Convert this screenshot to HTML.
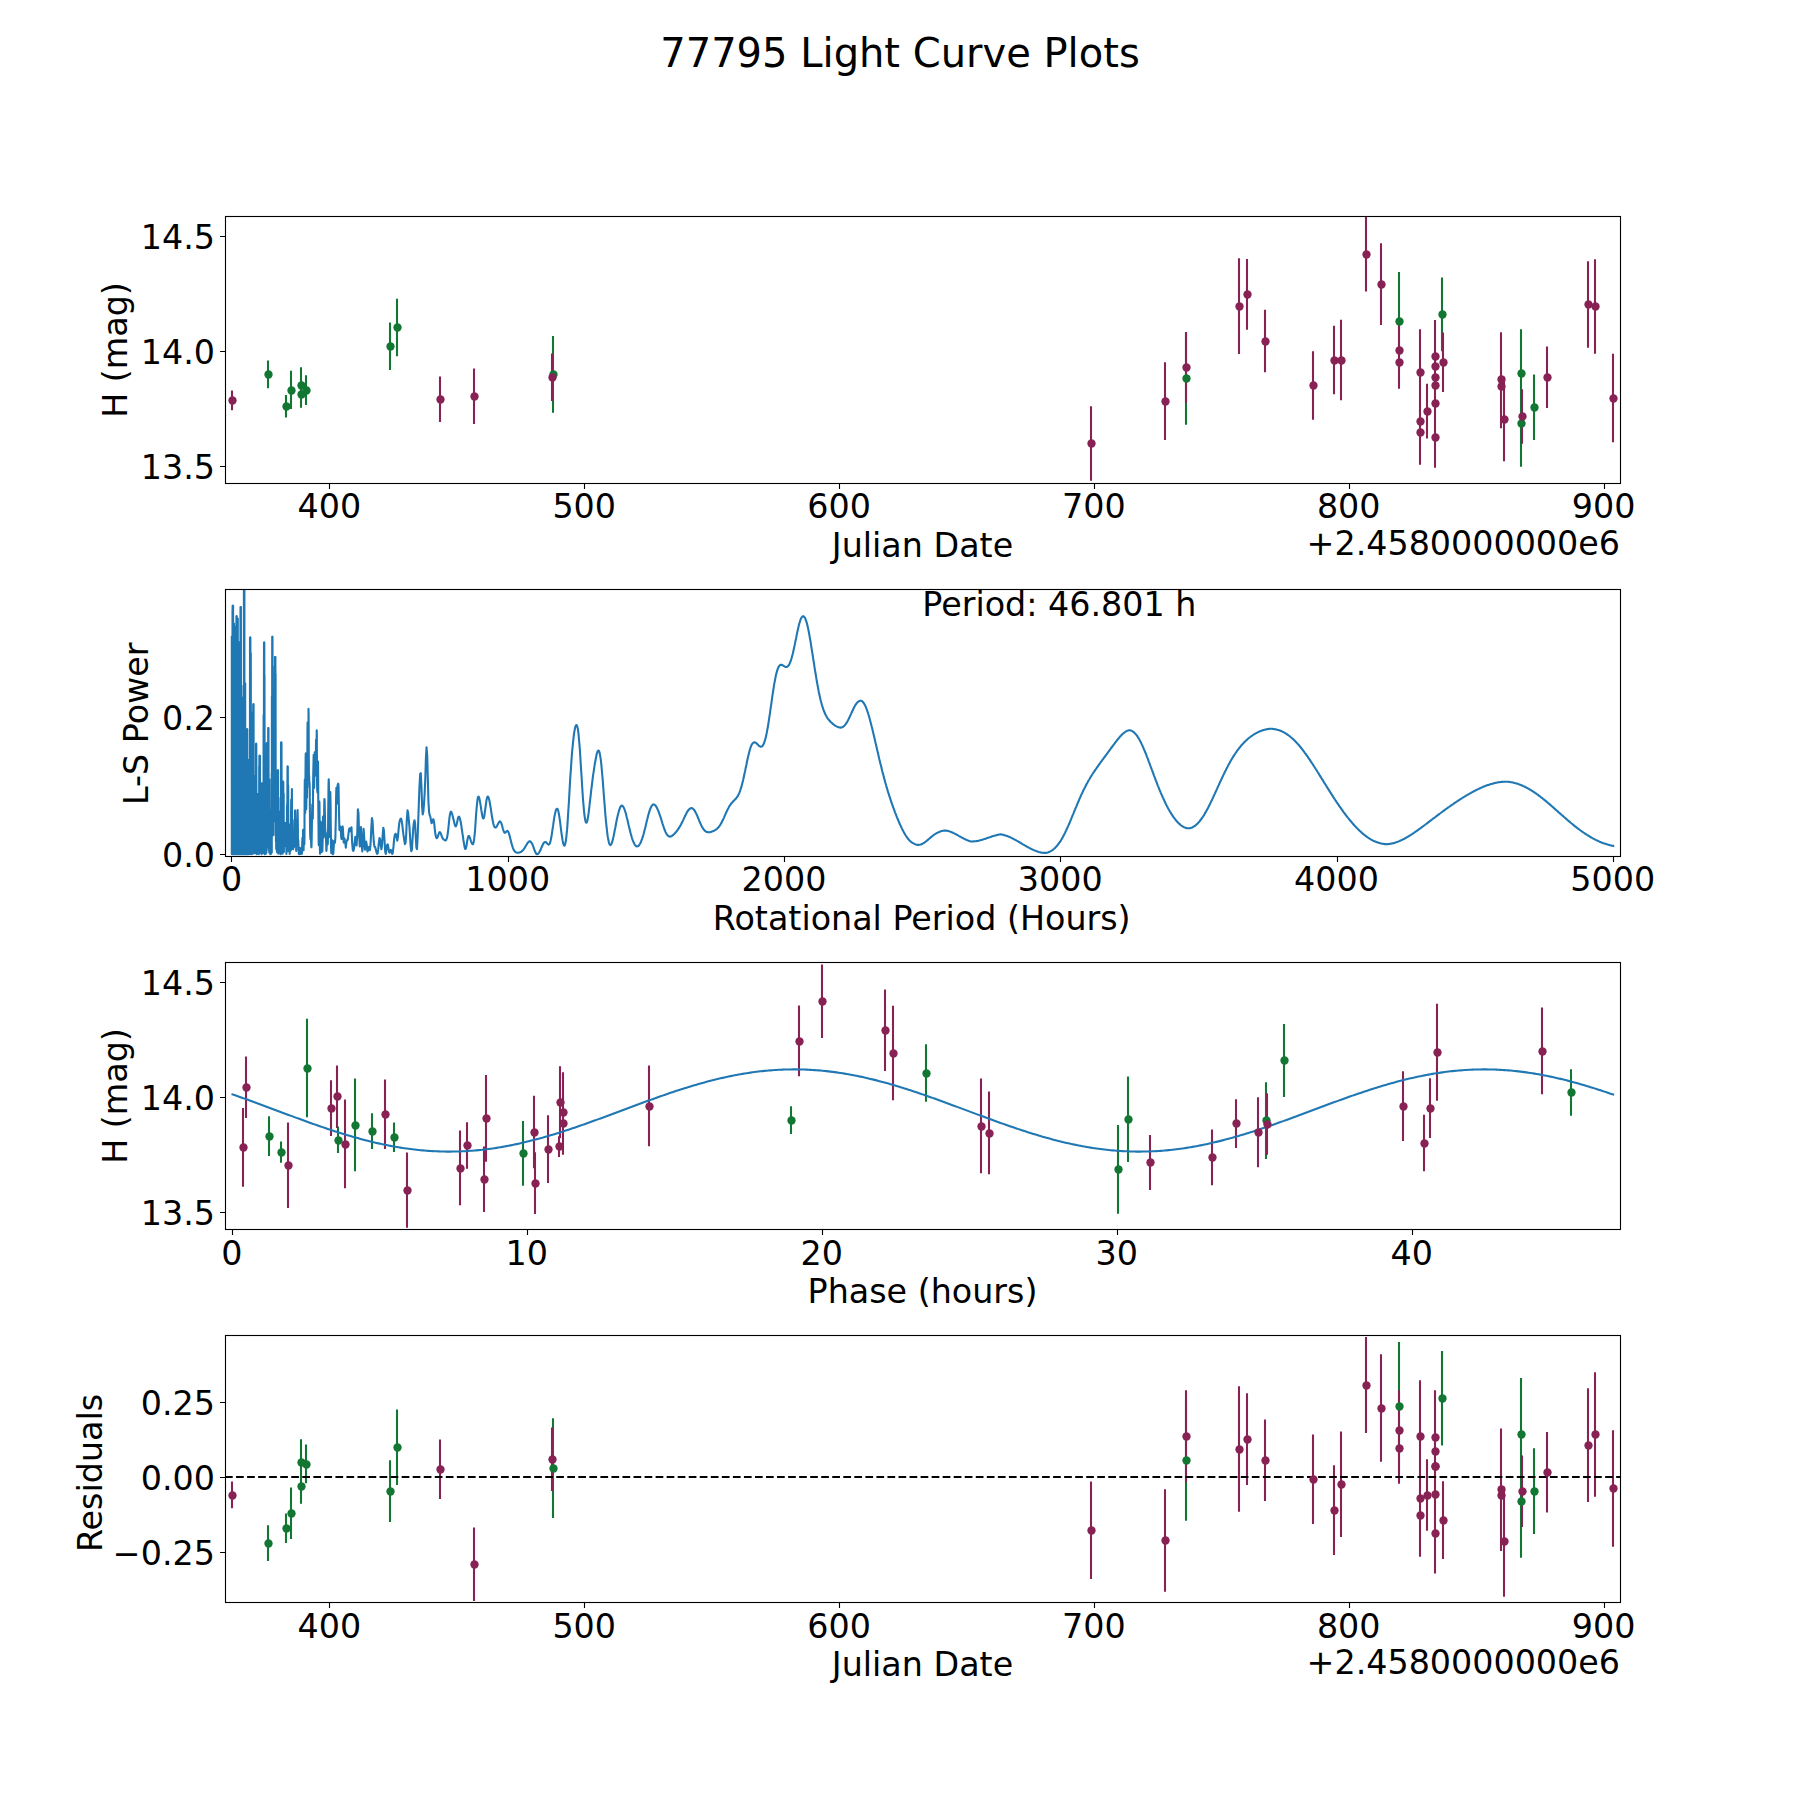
<!DOCTYPE html>
<html lang="en"><head><meta charset="utf-8"><title>77795 Light Curve Plots</title>
<style>html,body{margin:0;padding:0;background:#fff}svg{display:block}</style></head>
<body>
<svg width="1800" height="1800" viewBox="0 0 1800 1800" font-family='"DejaVu Sans", "Liberation Sans", sans-serif' font-size="33.333" fill="#000">
<rect width="1800" height="1800" fill="#fff"/>
<defs><clipPath id="c0"><rect x="225.5" y="216.5" width="1395.0" height="267.0"/></clipPath><clipPath id="c1"><rect x="225.5" y="589.5" width="1395.0" height="267.0"/></clipPath><clipPath id="c2"><rect x="225.5" y="962.5" width="1395.0" height="267.0"/></clipPath><clipPath id="c3"><rect x="225.5" y="1335.5" width="1395.0" height="267.0"/></clipPath></defs>
<text x="900" y="67" text-anchor="middle" font-size="40.0">77795 Light Curve Plots</text>
<g clip-path="url(#c0)">
<path d="M268 360.4V388.2M286 394.95V417.45M291 370.7V409.1M301 367.3V403.3M301 380.7V407.7M306 375.25V404.95M390 322.55V370.05M397 298.65V356.15M553 335.95V412.65M1186 332.7V424.7M1399 271.9V370.5M1442 277.4V351.2M1521 329.2V418.2M1521 380.7V466.7M1534 374.45V439.95" stroke="#117733" stroke-width="2.0833" fill="none"/>
<path d="M232 390.45V410.15M440 376.5V422.1M474 368.55V424.05M552 353.55V401.05M1091 406.2V480.8M1165 362.35V440.05M1186 332V403M1239 258.25V353.95M1247 259.05V329.75M1265 309.75V372.25M1313 351.15V419.65M1334 325.65V394.35M1341 319.75V400.25M1366 217.1V291.5M1381 243.35V325.05M1399 319.5V381.5M1399 336.1V388.7M1420 329.2V415.8M1420 384.6V458.6M1420 400V464.8M1427 383.8V438.6M1435 320.1V393.1M1435 326.6V406.6M1435 346.4V408.4M1435 349.3V421.3M1435 369.4V437.2M1435 407.2V467.8M1443 332.55V392.05M1501 332.2V426.8M1501 344.3V428.3M1504 376.85V461.15M1522 389.35V443.85M1547 346.5V408.1M1588 261.35V347.65M1595 259.15V353.65M1613 353.65V442.35" stroke="#882255" stroke-width="2.0833" fill="none"/>
<g fill="#117733"><circle cx="268.5" cy="374.5" r="4.17"/><circle cx="286.5" cy="406.5" r="4.17"/><circle cx="291.5" cy="390.5" r="4.17"/><circle cx="301.5" cy="385.5" r="4.17"/><circle cx="301.5" cy="394.5" r="4.17"/><circle cx="306.5" cy="390.5" r="4.17"/><circle cx="390.5" cy="346.5" r="4.17"/><circle cx="397.5" cy="327.5" r="4.17"/><circle cx="553.5" cy="374.5" r="4.17"/><circle cx="1186.5" cy="378.5" r="4.17"/><circle cx="1399.5" cy="321.5" r="4.17"/><circle cx="1442.5" cy="314.5" r="4.17"/><circle cx="1521.5" cy="373.5" r="4.17"/><circle cx="1521.5" cy="423.5" r="4.17"/><circle cx="1534.5" cy="407.5" r="4.17"/></g>
<g fill="#882255"><circle cx="232.5" cy="400.5" r="4.17"/><circle cx="440.5" cy="399.5" r="4.17"/><circle cx="474.5" cy="396.5" r="4.17"/><circle cx="552.5" cy="377.5" r="4.17"/><circle cx="1091.5" cy="443.5" r="4.17"/><circle cx="1165.5" cy="401.5" r="4.17"/><circle cx="1186.5" cy="367.5" r="4.17"/><circle cx="1239.5" cy="306.5" r="4.17"/><circle cx="1247.5" cy="294.5" r="4.17"/><circle cx="1265.5" cy="341.5" r="4.17"/><circle cx="1313.5" cy="385.5" r="4.17"/><circle cx="1334.5" cy="360.5" r="4.17"/><circle cx="1341.5" cy="360.5" r="4.17"/><circle cx="1366.5" cy="254.5" r="4.17"/><circle cx="1381.5" cy="284.5" r="4.17"/><circle cx="1399.5" cy="350.5" r="4.17"/><circle cx="1399.5" cy="362.5" r="4.17"/><circle cx="1420.5" cy="372.5" r="4.17"/><circle cx="1420.5" cy="421.5" r="4.17"/><circle cx="1420.5" cy="432.5" r="4.17"/><circle cx="1427.5" cy="411.5" r="4.17"/><circle cx="1435.5" cy="356.5" r="4.17"/><circle cx="1435.5" cy="366.5" r="4.17"/><circle cx="1435.5" cy="377.5" r="4.17"/><circle cx="1435.5" cy="385.5" r="4.17"/><circle cx="1435.5" cy="403.5" r="4.17"/><circle cx="1435.5" cy="437.5" r="4.17"/><circle cx="1443.5" cy="362.5" r="4.17"/><circle cx="1501.5" cy="379.5" r="4.17"/><circle cx="1501.5" cy="386.5" r="4.17"/><circle cx="1504.5" cy="419.5" r="4.17"/><circle cx="1522.5" cy="416.5" r="4.17"/><circle cx="1547.5" cy="377.5" r="4.17"/><circle cx="1588.5" cy="304.5" r="4.17"/><circle cx="1595.5" cy="306.5" r="4.17"/><circle cx="1613.5" cy="398.5" r="4.17"/></g>
</g>
<rect x="225.5" y="216.5" width="1395.0" height="267.0" fill="none" stroke="#000" stroke-width="1.111" stroke-linejoin="miter"/>
<path d="M329.5 483.5v5.41M584.5 483.5v5.41M839.5 483.5v5.41M1094.5 483.5v5.41M1349.5 483.5v5.41M1604.5 483.5v5.41" stroke="#000" stroke-width="1.111" fill="none"/>
<text x="329.4" y="518" text-anchor="middle">400</text>
<text x="584.23" y="518" text-anchor="middle">500</text>
<text x="839.06" y="518" text-anchor="middle">600</text>
<text x="1093.89" y="518" text-anchor="middle">700</text>
<text x="1348.72" y="518" text-anchor="middle">800</text>
<text x="1603.55" y="518" text-anchor="middle">900</text>
<path d="M225.5 236.5h-5.41M225.5 351.5h-5.41M225.5 466.5h-5.41" stroke="#000" stroke-width="1.111" fill="none"/>
<text x="215.0" y="249" text-anchor="end">14.5</text>
<text x="215.0" y="364" text-anchor="end">14.0</text>
<text x="215.0" y="479" text-anchor="end">13.5</text>
<text transform="translate(127 350) rotate(-90)" text-anchor="middle">H (mag)</text>
<text x="922.5" y="557" text-anchor="middle">Julian Date</text>
<text x="1620" y="555" text-anchor="end">+2.4580000000e6</text>
<g clip-path="url(#c1)"><path d="M231.8,853.0 231.8,636.6 232.0,854.3 232.0,849.9 232.0,847.1 232.2,854.3 232.2,636.6 232.2,794.9 232.3,802.8 232.3,854.3 232.5,609.6 232.5,790.1 232.5,789.6 232.5,854.3 232.6,605.8 232.7,846.4 232.8,843.1 232.8,605.8 232.8,854.3 233.0,834.2 233.0,825.2 233.1,605.8 233.2,854.3 233.2,842.9 233.3,842.7 233.3,636.0 233.3,854.3 233.5,844.2 233.5,835.4 233.6,623.6 233.7,854.3 233.7,837.7 233.8,841.6 233.8,854.3 233.8,623.6 234.0,820.7 234.0,818.1 234.0,623.6 234.2,854.3 234.2,833.1 234.3,830.1 234.3,854.3 234.5,626.7 234.5,746.1 234.5,747.1 234.6,629.0 234.7,854.3 234.7,841.2 234.8,844.3 234.8,629.0 235.0,854.3 235.0,842.5 235.0,838.5 235.1,629.0 235.2,854.3 235.2,853.3 235.3,850.8 235.4,634.7 235.5,854.3 235.5,826.8 235.5,827.6 235.5,854.3 235.6,634.7 235.7,838.6 235.8,831.7 235.8,854.3 235.8,634.7 236.0,843.3 236.0,838.3 236.1,652.5 236.2,854.2 236.2,851.3 236.3,853.8 236.3,854.3 236.4,616.2 236.5,826.0 236.5,836.5 236.5,854.3 236.7,616.2 236.7,809.1 236.8,822.4 236.8,616.2 236.9,854.1 237.0,828.2 237.0,825.8 237.2,687.9 237.2,854.3 237.2,851.6 237.3,850.7 237.3,618.6 237.4,854.3 237.5,845.8 237.5,850.7 237.5,854.2 237.7,618.6 237.7,677.1 237.8,618.6 237.8,854.1 238.0,823.5 238.0,821.4 238.1,854.3 238.2,693.0 238.2,794.2 238.3,781.4 238.3,854.2 238.4,729.3 238.5,846.3 238.5,847.4 238.6,642.6 238.7,854.3 238.7,830.1 238.8,837.8 238.9,854.3 239.0,642.6 239.0,763.1 239.0,785.6 239.1,642.6 239.1,854.1 239.2,759.9 239.3,735.5 239.3,683.9 239.3,854.2 239.5,845.5 239.5,845.5 239.6,854.2 239.7,704.7 239.7,793.6 239.8,787.0 239.8,738.9 239.9,854.0 240.0,829.5 240.0,831.4 240.2,854.2 240.2,738.9 240.2,829.2 240.3,830.5 240.4,853.9 240.5,607.0 240.5,851.3 240.5,852.3 240.5,854.3 240.6,607.0 240.7,756.9 240.8,756.3 240.8,854.0 240.9,607.0 241.0,815.9 241.0,798.6 241.1,854.2 241.2,685.8 241.2,801.0 241.3,802.6 241.4,685.8 241.5,853.4 241.5,808.7 241.5,793.1 241.5,716.6 241.6,854.3 241.7,780.2 241.8,767.6 241.9,764.0 242.0,853.8 242.0,852.3 242.0,848.5 242.1,706.0 242.1,851.4 242.2,826.1 242.3,826.1 242.3,854.2 242.5,700.3 242.5,700.3 242.7,854.3 242.7,847.6 242.8,846.4 242.9,700.3 242.9,854.1 243.0,830.4 243.0,833.2 243.2,765.0 243.2,852.8 243.2,847.4 243.3,843.2 243.3,854.2 243.4,697.3 243.5,834.1 243.5,836.1 243.6,849.9 243.6,697.3 243.7,846.2 243.8,842.7 243.9,853.0 243.9,583.5 244.0,819.3 244.0,817.2 244.1,583.5 244.2,854.0 244.2,832.4 244.3,844.8 244.4,583.5 244.4,854.2 244.5,836.8 244.5,835.0 244.6,851.4 244.7,683.3 244.8,687.1 244.8,683.3 245.0,847.9 245.0,824.2 245.0,829.2 245.1,853.7 245.2,683.3 245.2,809.4 245.3,807.6 245.4,790.5 245.5,854.3 245.5,842.5 245.5,837.9 245.6,790.5 245.6,854.0 245.7,851.5 245.8,853.5 245.8,854.3 245.8,807.9 246.0,852.7 246.0,851.0 246.2,853.1 246.2,761.2 246.3,801.5 246.3,761.2 246.5,854.3 246.5,841.1 246.5,832.7 246.6,731.8 246.7,854.2 246.7,850.2 246.8,852.7 246.9,729.2 247.0,804.5 247.0,793.6 247.1,842.5 247.2,729.2 247.2,783.0 247.3,788.3 247.3,729.2 247.5,850.6 247.5,849.6 247.5,849.5 247.5,854.1 247.7,761.5 247.7,826.9 247.8,827.4 247.8,851.0 248.0,802.1 248.0,840.6 248.0,840.3 248.1,852.5 248.2,775.7 248.2,844.3 248.3,849.0 248.3,853.8 248.5,775.7 248.5,798.9 248.5,800.4 248.5,775.7 248.6,854.2 248.7,821.5 248.8,827.9 248.9,853.7 249.0,759.7 249.0,841.0 249.0,836.6 249.0,852.4 249.2,759.7 249.2,835.9 249.3,843.8 249.3,853.8 249.4,759.7 249.5,842.1 249.5,847.5 249.6,853.9 249.7,792.5 249.7,817.1 249.8,819.8 249.9,854.0 250.0,637.5 250.0,811.6 250.0,818.1 250.0,820.9 250.2,637.5 250.2,780.4 250.3,800.1 250.3,833.5 250.4,637.5 250.5,796.3 250.5,793.3 250.5,835.5 250.7,653.4 250.7,707.1 250.8,653.4 251.0,849.6 251.0,825.4 251.0,826.3 251.1,854.2 251.1,716.7 251.2,842.4 251.3,837.5 251.3,763.9 251.5,853.0 251.5,854.1 251.7,712.2 251.8,743.4 251.8,712.2 252.0,853.1 252.0,847.4 252.0,842.3 252.2,712.2 252.3,778.2 252.3,732.4 252.4,852.7 252.5,844.5 252.5,849.1 252.6,851.5 252.7,732.4 252.8,793.2 252.8,763.3 252.9,853.7 253.0,824.9 253.0,818.9 253.1,853.3 253.2,704.3 253.2,766.2 253.3,760.9 253.3,704.3 253.5,839.9 253.5,841.6 253.6,704.3 253.7,850.6 253.7,839.5 253.8,841.7 253.8,853.3 254.0,807.3 254.0,833.6 254.0,835.7 254.1,851.2 254.2,809.1 254.3,815.3 254.3,834.0 254.4,809.1 254.5,812.2 254.5,818.3 254.6,853.2 254.7,776.6 254.7,817.0 254.8,824.3 254.8,852.1 255.0,776.6 255.0,776.6 255.0,834.0 255.2,785.7 255.3,784.1 255.3,779.4 255.4,846.1 255.5,831.8 255.5,837.9 255.5,851.2 255.7,783.7 255.7,830.1 255.8,832.1 255.9,836.9 256.0,743.8 256.0,781.5 256.1,743.8 256.2,834.0 256.2,801.7 256.3,814.4 256.3,743.8 256.5,850.1 256.5,852.3 256.6,854.2 256.7,797.3 256.8,844.6 256.8,851.7 256.9,802.5 257.0,848.5 257.0,852.8 257.0,853.0 257.1,802.5 257.2,851.3 257.3,853.7 257.4,794.0 257.5,812.3 257.5,801.4 257.5,794.0 257.7,829.9 257.7,815.8 257.8,804.2 257.9,794.0 258.0,842.7 258.0,838.7 258.0,834.2 258.0,795.4 258.1,853.1 258.2,837.2 258.3,828.5 258.3,812.1 258.4,850.9 258.5,850.1 258.5,850.5 258.6,812.1 258.7,854.1 258.7,853.7 258.8,853.4 258.9,854.2 259.0,801.2 259.0,839.2 259.1,853.1 259.2,766.3 259.2,829.7 259.3,815.4 259.3,840.5 259.4,755.9 259.5,794.9 259.5,785.6 259.5,755.9 259.7,835.7 259.8,839.0 259.9,842.0 260.0,755.9 260.0,816.7 260.0,820.0 260.1,811.8 260.2,847.7 260.2,841.5 260.3,837.4 260.4,848.1 260.5,796.4 260.5,821.3 260.5,822.6 260.6,828.6 260.7,796.4 260.7,801.6 260.8,796.4 260.9,849.8 261.0,820.4 261.0,805.8 261.0,796.9 261.2,853.7 261.2,853.5 261.3,849.5 261.4,852.7 261.4,796.9 261.5,837.0 261.5,845.3 261.6,854.2 261.7,783.5 261.8,820.7 261.9,783.5 262.0,795.9 262.0,783.5 262.2,844.3 262.2,841.6 262.3,837.1 262.3,800.1 262.4,852.7 262.5,851.6 262.5,852.2 262.7,822.7 262.8,834.8 262.8,822.7 262.9,835.1 263.0,833.3 263.0,833.1 263.0,822.7 263.2,850.6 263.2,842.2 263.3,839.9 263.4,853.0 263.5,808.1 263.5,830.6 263.5,835.9 263.5,844.5 263.6,715.0 263.7,834.2 263.8,827.8 264.0,642.5 264.0,717.8 264.0,724.0 264.2,642.5 264.2,665.0 264.3,642.5 264.5,819.3 264.5,675.0 264.7,854.3 264.7,854.2 264.8,854.0 264.9,826.2 265.0,847.6 265.0,843.4 265.1,853.7 265.2,764.2 265.3,831.4 265.3,835.5 265.5,764.2 265.5,764.9 265.5,764.2 265.6,830.2 265.7,815.5 265.8,767.4 265.9,853.7 266.0,835.2 266.0,832.6 266.1,814.8 266.1,847.9 266.2,841.9 266.3,842.7 266.4,852.7 266.5,772.1 266.5,827.4 266.6,827.9 266.7,743.4 266.8,753.5 266.8,743.4 267.0,805.4 267.0,743.4 267.1,829.9 267.2,822.0 267.3,812.6 267.3,785.6 267.5,794.0 267.5,788.8 267.5,785.6 267.7,847.1 267.7,845.6 267.8,843.8 268.0,757.8 268.0,816.2 268.2,728.1 268.3,739.7 268.3,728.1 268.4,796.5 268.5,788.4 268.5,728.1 268.7,850.0 268.7,828.4 268.8,820.2 268.9,843.1 269.0,779.4 269.0,779.4 269.2,852.5 269.2,849.7 269.3,845.2 269.4,779.4 269.5,843.7 269.5,845.5 269.6,812.6 269.7,844.9 269.8,846.0 269.9,812.6 270.0,842.0 270.0,842.3 270.1,822.9 270.2,853.8 270.3,854.2 270.3,854.3 270.5,810.6 270.5,830.0 270.6,835.4 270.7,810.6 270.7,811.4 270.8,810.6 270.9,853.9 271.0,849.5 271.0,848.6 271.1,812.0 271.2,848.9 271.3,850.2 271.4,812.0 271.5,843.0 271.5,852.8 271.5,852.9 271.7,773.1 271.7,846.2 271.8,852.4 271.9,696.4 272.0,823.1 272.0,830.4 272.2,636.8 272.2,713.2 272.3,725.0 272.3,758.3 272.5,636.8 272.5,648.9 272.5,636.8 272.7,802.2 272.7,800.9 272.8,794.1 272.8,666.3 273.0,802.2 273.0,785.0 273.1,834.6 273.2,811.7 273.3,805.3 273.3,789.1 273.4,835.3 273.5,833.6 273.5,829.3 273.6,785.1 273.7,807.4 273.8,813.9 273.8,818.5 274.0,785.1 274.0,776.1 274.2,821.2 274.2,800.4 274.3,790.4 274.3,717.7 274.5,819.1 274.5,818.3 274.5,813.5 274.7,700.4 274.7,752.6 274.8,772.0 274.8,779.2 275.0,657.1 275.0,682.3 275.1,657.1 275.2,724.0 275.2,711.6 275.3,694.2 275.4,657.1 275.5,764.0 275.5,783.6 275.6,674.0 275.7,799.6 275.8,778.3 275.9,841.9 276.0,823.4 276.0,813.0 276.2,849.1 276.2,837.9 276.3,832.3 276.3,820.2 276.5,849.6 276.5,848.8 276.7,823.6 276.7,841.0 276.8,835.6 277.0,852.1 277.0,852.3 277.2,811.0 277.3,828.9 277.4,773.4 277.5,822.4 277.5,827.5 277.7,770.3 277.8,770.3 278.0,840.2 278.0,837.6 278.1,770.3 278.2,844.0 278.3,850.9 278.3,853.7 278.5,826.4 278.5,828.2 278.6,852.6 278.7,844.4 278.8,837.4 278.8,828.2 279.0,849.0 279.0,850.4 279.2,828.2 279.3,817.3 279.4,841.9 279.5,841.7 279.5,838.5 279.7,811.6 279.8,812.8 279.8,811.6 280.0,842.8 280.0,842.4 280.2,811.6 280.3,824.9 280.5,853.9 280.5,854.2 280.6,798.1 280.7,854.1 280.8,853.3 281.0,797.7 281.0,742.5 281.1,806.4 281.2,804.9 281.3,805.5 281.4,742.5 281.5,771.2 281.5,742.5 281.7,818.2 281.8,809.2 281.9,787.6 282.0,819.3 282.0,798.6 282.2,843.8 282.2,843.5 282.3,842.9 282.4,822.9 282.5,848.3 282.5,852.1 282.6,853.7 282.7,830.9 282.8,781.8 283.0,842.1 283.0,840.4 283.2,781.8 283.2,783.7 283.3,781.8 283.5,845.5 283.5,847.3 283.7,793.5 283.7,839.1 283.8,844.4 283.9,851.9 284.0,835.5 284.0,838.9 284.1,823.7 284.2,842.6 284.3,842.1 284.5,822.7 284.5,823.2 284.6,822.7 284.7,839.1 284.8,822.7 284.8,843.2 285.0,842.8 285.0,841.3 285.1,832.9 285.2,835.0 285.3,835.4 285.4,838.3 285.5,823.4 285.5,828.4 285.6,823.4 285.7,829.9 285.8,823.4 286.0,846.7 286.0,845.5 286.1,832.1 286.2,844.3 286.3,841.6 286.4,853.9 286.5,853.3 286.5,851.9 286.7,838.1 286.8,847.2 287.0,806.2 287.0,829.4 287.2,803.4 287.2,808.4 287.3,811.5 287.5,766.5 287.5,802.1 287.7,766.5 287.7,772.8 287.8,766.5 288.0,823.9 288.0,829.2 288.1,829.3 288.2,785.4 288.3,820.3 288.5,849.8 288.5,851.3 288.7,824.8 288.8,838.3 289.0,845.3 289.0,847.8 289.1,848.4 289.2,838.3 289.3,843.5 289.5,848.1 289.5,839.7 289.7,853.9 289.7,853.7 289.8,852.5 290.0,839.7 290.0,839.7 290.2,847.8 290.3,850.3 290.5,831.2 290.5,826.0 290.6,823.9 290.7,834.6 290.8,843.7 290.8,850.5 291.0,829.9 291.0,818.4 291.2,799.7 291.3,803.1 291.5,839.1 291.5,833.9 291.7,805.3 291.8,796.1 291.9,789.0 292.0,809.4 292.0,825.2 292.2,848.1 292.3,848.6 292.5,841.9 292.5,840.3 292.6,839.7 292.7,841.9 292.8,843.5 293.0,847.6 293.0,848.2 293.2,849.2 293.2,849.2 293.3,848.3 293.4,842.3 293.5,841.5 293.7,844.5 293.8,845.6 293.9,847.3 294.0,846.9 294.0,844.5 294.2,825.4 294.3,821.2 294.4,819.7 294.5,820.1 294.5,821.6 294.7,828.3 294.8,825.8 295.0,810.7 295.1,810.4 295.2,820.8 295.3,827.6 295.5,843.2 295.6,843.9 295.7,842.3 295.8,842.2 296.0,844.1 296.1,846.2 296.2,850.9 296.3,849.9 296.5,839.7 296.6,836.1 296.6,833.2 296.7,830.7 296.8,828.0 296.9,823.2 296.9,823.3 297.0,825.2 297.1,827.4 297.2,824.4 297.3,819.7 297.5,811.8 297.5,810.9 297.6,810.1 297.7,814.7 297.8,821.7 297.9,829.6 297.9,835.8 298.0,839.0 298.1,839.5 298.2,839.5 298.3,840.7 298.5,846.4 298.5,848.8 298.7,853.5 298.8,853.9 298.9,853.8 299.0,853.7 299.0,853.7 299.2,854.2 299.3,853.7 299.4,852.6 299.4,851.3 299.5,849.9 299.6,847.7 299.7,848.0 299.8,849.6 299.9,851.8 299.9,853.4 300.0,853.8 300.2,851.3 300.3,850.6 300.4,850.0 300.4,849.8 300.5,850.6 300.7,854.0 300.8,852.7 300.9,851.5 300.9,851.0 301.0,851.0 301.2,848.1 301.3,848.2 301.4,849.4 301.5,851.0 301.5,852.2 301.7,853.4 301.8,853.8 301.9,853.5 302.0,851.9 302.0,849.3 302.1,846.2 302.2,843.2 302.3,840.7 302.4,838.9 302.4,837.9 302.5,838.1 302.7,844.2 302.8,843.2 302.9,839.2 303.0,834.4 303.0,830.8 303.1,829.9 303.2,831.6 303.3,834.9 303.4,839.2 303.4,844.1 303.5,848.6 303.6,850.3 303.7,840.9 303.8,835.0 303.9,832.3 304.0,833.3 304.1,836.5 304.1,840.2 304.2,843.2 304.3,844.4 304.4,842.7 304.5,835.7 304.5,822.0 304.6,803.8 304.7,787.4 304.8,779.5 304.9,781.7 304.9,791.0 305.0,802.5 305.1,811.3 305.2,813.0 305.3,806.7 305.4,795.5 305.4,783.4 305.5,771.9 305.6,761.4 305.7,753.9 305.8,753.4 305.9,761.9 305.9,776.5 306.0,792.0 306.1,803.9 306.2,809.1 306.3,806.9 306.4,798.6 306.4,786.9 306.5,776.0 306.6,770.5 306.7,772.8 306.8,781.0 306.9,790.8 307.0,797.4 307.0,797.6 307.1,790.9 307.2,778.6 307.3,762.2 307.4,744.1 307.5,729.0 307.6,722.2 307.7,724.2 307.7,730.2 307.8,735.2 307.9,738.0 308.0,741.4 308.1,747.1 308.2,752.2 308.3,750.4 308.4,737.4 308.5,718.9 308.5,708.9 308.6,714.5 308.7,732.3 308.8,754.3 308.9,770.6 309.0,775.8 309.1,775.1 309.2,776.7 309.3,781.9 309.4,787.0 309.4,787.5 309.5,783.9 309.6,782.6 309.7,787.7 309.8,798.1 309.9,810.9 310.0,822.7 310.1,830.8 310.2,835.3 310.3,837.9 310.4,839.2 310.5,838.5 310.6,835.7 310.7,832.6 310.8,830.7 310.9,830.7 310.9,832.6 311.0,836.3 311.1,840.8 311.2,844.6 311.3,846.7 311.4,847.3 311.5,846.2 311.6,843.3 311.7,838.6 311.8,832.3 311.9,825.2 312.0,818.1 312.1,812.1 312.2,807.7 312.3,804.9 312.4,804.2 312.5,806.7 312.6,812.5 312.7,818.2 312.8,818.8 312.9,812.3 313.0,800.6 313.1,787.5 313.2,777.1 313.3,771.1 313.4,767.1 313.5,762.2 313.6,756.8 313.7,754.8 313.8,760.1 313.9,771.8 314.0,783.2 314.1,787.9 314.2,785.0 314.3,777.8 314.4,770.0 314.5,763.0 314.6,756.6 314.7,752.2 314.8,753.1 315.0,760.9 315.1,770.8 315.2,775.6 315.3,772.5 315.4,765.8 315.5,763.5 315.6,768.4 315.7,773.1 315.8,769.0 315.9,755.7 316.0,741.9 316.1,739.5 316.2,749.4 316.3,758.6 316.5,755.7 316.6,742.2 316.7,730.4 316.8,732.7 316.9,749.9 317.0,771.2 317.1,785.4 317.2,790.3 317.3,790.8 317.4,791.9 317.6,792.8 317.7,789.3 317.8,779.8 317.9,768.0 318.0,761.5 318.1,766.9 318.2,784.3 318.3,806.1 318.5,824.4 318.6,836.9 318.7,843.9 318.8,845.2 318.9,841.0 319.0,832.0 319.2,819.8 319.3,807.7 319.4,801.5 319.5,805.5 319.6,818.5 319.7,834.6 319.9,847.7 320.0,853.7 320.1,853.5 320.2,849.9 320.3,844.0 320.4,835.4 320.6,826.4 320.7,821.8 320.8,822.7 320.9,827.3 321.0,834.8 321.2,843.5 321.3,850.2 321.4,852.3 321.5,851.8 321.7,851.0 321.8,850.7 321.9,850.9 322.0,851.2 322.2,851.4 322.3,851.2 322.4,849.9 322.5,846.0 322.7,838.9 322.8,829.9 322.9,821.9 323.0,817.1 323.2,816.2 323.3,819.4 323.4,826.0 323.5,833.2 323.7,837.5 323.8,836.5 323.9,829.3 324.1,818.1 324.2,807.6 324.3,801.2 324.4,799.0 324.6,799.9 324.7,803.5 324.8,809.7 325.0,817.2 325.1,824.3 325.2,829.2 325.4,831.4 325.5,831.9 325.6,831.9 325.8,832.8 325.9,835.2 326.0,839.3 326.2,844.5 326.3,849.0 326.4,850.9 326.6,849.3 326.7,845.2 326.8,840.4 327.0,836.8 327.1,835.4 327.3,836.2 327.4,838.8 327.5,842.1 327.7,844.4 327.8,843.1 328.0,837.0 328.1,826.6 328.2,813.1 328.4,798.6 328.5,786.2 328.7,779.2 328.8,779.5 329.0,788.4 329.1,804.8 329.2,822.6 329.4,834.5 329.5,837.0 329.7,831.4 329.8,820.4 330.0,807.4 330.1,796.6 330.3,792.1 330.4,795.6 330.6,806.3 330.7,820.8 330.9,835.0 331.0,845.6 331.2,851.5 331.3,853.3 331.5,851.9 331.6,848.7 331.8,844.8 331.9,841.6 332.1,840.4 332.2,841.4 332.4,844.3 332.5,847.8 332.7,850.9 332.8,853.1 333.0,854.2 333.1,854.1 333.3,853.1 333.5,851.2 333.6,848.8 333.8,846.2 333.9,843.8 334.1,842.0 334.2,840.9 334.4,840.7 334.6,841.3 334.7,842.3 334.9,842.8 335.0,842.2 335.2,840.1 335.4,836.6 335.5,831.4 335.7,824.0 335.9,814.2 336.0,803.0 336.2,792.9 336.4,787.8 336.5,789.6 336.7,796.2 336.9,802.3 337.0,803.8 337.2,800.1 337.4,793.4 337.5,787.5 337.7,784.6 337.9,784.1 338.0,784.1 338.2,783.7 338.4,784.1 338.6,787.4 338.7,795.0 338.9,805.5 339.1,816.4 339.3,824.8 339.4,829.4 339.6,830.2 339.8,829.1 340.0,827.6 340.1,826.7 340.3,826.6 340.5,827.2 340.7,828.6 340.9,830.8 341.0,833.8 341.2,836.8 341.4,838.8 341.6,839.0 341.8,837.0 342.0,833.0 342.2,829.1 342.4,826.8 342.6,826.4 342.8,827.4 343.0,829.8 343.2,834.0 343.5,839.0 343.7,842.5 343.9,842.6 344.1,840.5 344.3,838.7 344.5,838.5 344.7,839.5 344.9,840.5 345.2,841.4 345.8,847.6 346.4,842.0 347.1,840.1 347.7,839.9 348.3,835.4 349.0,829.6 349.6,828.3 350.2,831.2 350.9,829.7 351.5,827.2 352.1,842.1 352.8,849.9 353.4,850.9 354.1,848.1 354.7,842.3 355.3,836.8 356.0,841.2 356.6,845.5 357.2,835.0 357.9,809.2 358.5,813.5 359.1,834.9 359.8,846.5 360.4,832.6 361.0,827.0 361.7,844.7 362.3,851.4 363.0,841.3 363.6,828.9 364.2,837.1 364.9,849.8 365.5,848.1 366.1,841.5 366.8,845.0 367.4,851.5 368.0,850.4 368.7,847.0 369.3,848.6 369.9,850.1 370.6,843.7 371.2,830.2 371.9,818.0 372.5,820.4 373.1,831.5 373.8,841.7 374.4,846.7 375.0,846.8 375.7,848.9 376.3,851.5 376.9,853.6 377.6,853.6 378.2,849.7 378.8,843.2 379.5,838.0 380.1,839.4 380.8,845.7 381.4,849.3 382.0,845.4 382.7,835.1 383.3,827.7 383.9,830.5 384.6,841.5 385.2,851.7 385.8,853.9 386.5,849.1 387.1,844.8 387.8,844.4 388.4,847.8 389.0,852.0 389.7,852.6 390.3,850.3 390.9,849.8 391.6,852.0 392.2,854.0 392.8,852.6 393.5,846.4 394.1,839.4 394.7,835.5 395.4,833.8 396.0,834.3 396.7,838.0 397.3,840.7 397.9,837.1 398.6,829.4 399.2,823.6 399.8,820.7 400.5,818.9 401.1,818.5 401.7,820.9 402.4,826.0 403.0,831.3 403.6,835.7 404.3,840.5 404.9,844.1 405.6,842.7 406.2,834.4 406.8,820.1 407.5,810.3 408.1,812.4 408.7,818.9 409.4,826.1 410.0,835.5 410.6,845.4 411.3,851.2 411.9,849.7 412.5,839.7 413.2,829.0 413.8,823.0 414.5,820.2 415.1,823.5 415.7,836.0 416.4,847.6 417.0,849.2 417.6,838.3 418.3,819.4 418.9,801.5 419.5,785.9 420.2,773.7 420.8,773.2 421.5,787.9 422.1,806.3 422.7,814.5 423.4,811.3 424.0,803.8 424.6,794.1 425.3,778.3 425.9,758.5 426.5,747.2 427.2,754.9 427.8,777.7 428.4,800.5 429.1,812.2 429.7,815.2 430.4,816.9 431.0,820.6 431.6,823.3 432.3,822.0 432.9,819.5 433.5,819.4 434.2,823.1 434.8,829.1 435.4,834.3 436.1,837.2 436.7,838.2 437.3,837.8 438.0,836.2 438.6,834.1 439.3,832.4 439.9,832.0 440.5,832.8 441.2,834.6 441.8,836.4 442.4,837.9 443.1,838.9 443.7,839.5 444.3,839.9 445.0,840.3 445.6,840.4 446.2,839.9 446.9,838.2 447.5,835.0 448.2,830.1 448.8,824.0 449.4,818.0 450.1,813.7 450.7,811.8 451.3,811.9 452.0,813.6 452.6,815.8 453.2,818.3 453.9,821.1 454.5,823.8 455.1,825.8 455.8,826.4 456.4,825.3 457.1,822.6 457.7,819.5 458.3,817.1 459.0,816.7 459.6,817.6 460.2,819.7 460.9,823.0 461.5,826.9 462.1,831.2 462.8,835.6 463.4,840.0 464.1,844.2 464.7,847.5 465.3,849.0 466.0,848.1 466.6,845.0 467.2,841.0 467.9,837.7 468.5,836.0 469.1,836.1 469.8,837.4 470.4,839.3 471.0,841.3 471.7,843.0 472.3,844.1 473.0,844.2 473.6,842.6 474.2,838.7 474.9,832.2 475.5,823.6 476.1,814.4 476.8,806.2 477.4,800.3 478.0,797.0 478.7,796.5 479.3,798.2 479.9,801.2 480.6,805.1 481.2,809.4 481.9,813.5 482.5,816.8 483.1,818.5 483.8,818.1 484.4,815.4 485.0,811.0 485.7,806.0 486.3,801.4 486.9,798.1 487.6,796.6 488.2,796.8 488.8,798.2 489.5,800.9 490.1,804.5 490.8,808.5 491.4,812.7 492.0,816.8 492.7,820.5 493.3,823.5 493.9,825.6 494.6,827.0 495.2,827.5 495.8,827.4 496.5,826.7 497.1,825.7 497.7,824.5 498.4,823.2 499.0,822.1 499.7,821.4 500.3,821.5 500.9,822.3 501.6,823.9 502.2,826.1 502.8,828.5 503.5,830.6 504.1,832.0 504.7,832.7 505.4,832.6 506.0,831.9 506.7,831.3 507.3,830.9 507.9,831.3 508.6,832.5 509.2,834.3 509.8,836.6 510.5,839.2 511.1,841.8 511.7,844.2 512.4,846.3 513.0,848.1 513.6,849.6 514.3,850.7 514.9,851.5 515.6,852.1 516.2,852.5 516.8,852.6 517.5,852.7 518.1,852.7 518.7,852.6 519.4,852.4 520.0,852.2 520.6,852.0 521.3,851.6 521.9,851.2 522.5,850.6 523.2,849.9 523.8,849.1 524.5,848.1 525.1,847.1 525.7,846.0 526.4,845.0 527.0,843.9 527.6,843.0 528.3,842.2 528.9,841.6 529.5,841.3 530.2,841.3 530.8,841.8 531.4,842.6 532.1,843.7 532.7,845.2 533.4,846.9 534.0,848.7 534.6,850.5 535.3,852.0 535.9,853.2 536.5,854.0 537.2,854.3 537.8,854.1 538.4,853.5 539.1,852.6 539.7,851.5 540.3,850.2 541.0,848.7 541.6,847.2 542.3,845.8 542.9,844.4 543.5,843.3 544.2,842.5 544.8,842.0 545.4,842.0 546.1,842.3 546.7,842.9 547.3,843.7 548.0,844.3 548.6,844.6 549.3,844.3 549.9,843.2 550.5,841.1 551.2,838.1 551.8,834.3 552.4,830.1 553.1,825.7 553.7,821.3 554.3,817.4 555.0,813.9 555.6,811.3 556.2,809.4 556.9,808.7 557.5,809.0 558.2,810.6 558.8,813.4 559.4,817.2 560.1,821.8 560.7,826.8 561.3,831.8 562.0,836.5 562.6,840.4 563.2,843.4 563.9,845.3 564.5,845.7 565.1,844.4 565.8,841.3 566.4,836.3 567.1,829.4 567.7,820.9 568.3,811.0 569.0,800.4 569.6,789.5 570.2,778.9 570.9,769.0 571.5,759.9 572.1,751.9 572.8,744.9 573.4,738.9 574.0,733.9 574.7,729.8 575.3,726.9 576.0,725.3 576.6,725.1 577.2,726.2 577.9,729.1 578.5,733.9 579.1,740.5 579.8,748.7 580.4,758.1 581.0,768.2 581.7,778.6 582.3,788.7 582.9,798.0 583.6,806.2 584.2,813.0 584.9,818.1 585.5,821.3 586.1,822.7 586.8,822.4 587.4,820.5 588.0,817.1 588.7,812.7 589.3,807.5 589.9,801.8 590.6,796.1 591.2,790.4 591.9,785.0 592.5,779.9 593.1,775.2 593.8,770.8 594.4,766.6 595.0,762.7 595.7,759.2 596.3,756.0 596.9,753.3 597.6,751.3 598.2,750.5 598.8,750.8 599.5,752.3 600.1,755.3 600.8,759.6 601.4,765.2 602.0,772.0 602.7,779.6 603.3,787.8 603.9,796.1 604.6,804.4 605.2,812.3 605.8,819.6 606.5,826.1 607.1,831.7 607.7,836.4 608.4,840.1 609.0,842.8 609.7,844.5 610.3,845.1 610.9,844.8 611.6,843.7 612.2,841.9 612.8,839.6 613.5,836.8 614.1,833.7 614.7,830.5 615.4,827.2 616.0,823.8 616.6,820.6 617.3,817.6 617.9,814.8 618.6,812.3 619.2,810.1 619.8,808.3 620.5,806.8 621.1,805.9 621.7,805.6 622.4,805.8 623.0,806.3 623.6,807.4 624.3,808.8 624.9,810.5 625.6,812.6 626.2,815.0 626.8,817.5 627.5,820.1 628.1,822.8 628.7,825.5 629.4,828.2 630.0,830.8 630.6,833.3 631.3,835.6 631.9,837.7 632.5,839.6 633.2,841.3 633.8,842.8 634.5,844.1 635.1,845.1 635.7,845.8 636.4,846.3 637.0,846.4 637.6,846.3 638.3,846.0 638.9,845.4 639.5,844.5 640.2,843.5 640.8,842.2 641.4,840.6 642.1,838.9 642.7,836.9 643.4,834.8 644.0,832.5 644.6,830.1 645.3,827.5 645.9,824.9 646.5,822.2 647.2,819.6 647.8,817.1 648.4,814.7 649.1,812.4 649.7,810.4 650.3,808.7 651.0,807.2 651.6,806.0 652.3,805.2 652.9,804.6 653.5,804.4 654.2,804.5 654.8,804.9 655.4,805.5 656.1,806.4 656.7,807.4 657.3,808.7 658.0,810.1 658.6,811.7 659.2,813.4 659.9,815.3 660.5,817.2 661.2,819.2 661.8,821.3 662.4,823.3 663.1,825.3 663.7,827.2 664.3,829.0 665.0,830.6 665.6,832.1 666.2,833.4 666.9,834.4 667.5,835.2 668.2,835.9 668.8,836.3 669.4,836.5 670.1,836.6 670.7,836.5 671.3,836.2 672.0,835.9 672.6,835.4 673.2,834.9 673.9,834.3 674.5,833.7 675.1,833.0 675.8,832.3 676.4,831.5 677.1,830.7 677.7,829.8 678.3,828.9 679.0,828.0 679.6,826.9 680.2,825.9 680.9,824.7 681.5,823.5 682.1,822.3 682.8,820.9 683.4,819.6 684.0,818.2 684.7,816.8 685.3,815.5 686.0,814.2 686.6,813.0 687.2,811.8 687.9,810.8 688.5,810.0 689.1,809.3 689.8,808.8 690.4,808.4 691.0,808.1 691.7,808.1 692.3,808.3 692.9,808.7 693.6,809.3 694.2,810.1 694.9,811.0 695.5,812.2 696.1,813.4 696.8,814.8 697.4,816.2 698.0,817.8 698.7,819.3 699.3,820.8 699.9,822.3 700.6,823.8 701.2,825.2 701.8,826.4 702.5,827.6 703.1,828.6 703.8,829.5 704.4,830.3 705.0,830.9 705.7,831.4 706.3,831.7 706.9,832.0 707.6,832.1 708.2,832.2 708.8,832.2 709.5,832.2 710.1,832.1 710.8,832.0 711.4,831.8 712.0,831.6 712.7,831.3 713.3,831.1 713.9,830.8 714.6,830.4 715.2,830.1 715.8,829.7 716.5,829.2 717.1,828.7 717.7,828.1 718.4,827.4 719.0,826.6 719.7,825.7 720.3,824.8 720.9,823.7 721.6,822.6 722.2,821.3 722.8,820.0 723.5,818.7 724.1,817.3 724.7,815.8 725.4,814.4 726.0,813.0 726.6,811.6 727.3,810.2 727.9,808.9 728.6,807.7 729.2,806.6 729.8,805.5 730.5,804.6 731.1,803.7 731.7,802.9 732.4,802.2 733.0,801.5 733.6,800.9 734.3,800.3 734.9,799.6 735.5,799.0 736.2,798.2 736.8,797.4 737.5,796.5 738.1,795.4 738.7,794.2 739.4,792.7 740.0,791.1 740.6,789.2 741.3,787.2 741.9,784.9 742.5,782.5 743.2,779.8 743.8,777.0 744.4,774.0 745.1,771.0 745.7,767.9 746.4,764.8 747.0,761.7 747.6,758.8 748.3,755.9 748.9,753.3 749.5,750.9 750.2,748.7 750.8,746.8 751.4,745.3 752.1,744.1 752.7,743.3 753.4,742.7 754.0,742.4 754.6,742.4 755.3,742.5 755.9,742.9 756.5,743.4 757.2,744.0 757.8,744.6 758.4,745.3 759.1,745.8 759.7,746.3 760.3,746.6 761.0,746.7 761.6,746.5 762.3,746.1 762.9,745.3 763.5,744.2 764.2,742.8 764.8,740.9 765.4,738.7 766.1,736.1 766.7,733.1 767.3,729.8 768.0,726.1 768.6,722.2 769.2,718.1 769.9,713.7 770.5,709.2 771.2,704.7 771.8,700.2 772.4,695.8 773.1,691.5 773.7,687.4 774.3,683.6 775.0,680.1 775.6,676.9 776.2,674.0 776.9,671.6 777.5,669.6 778.1,667.9 778.8,666.6 779.4,665.7 780.1,665.1 780.7,664.8 781.3,664.8 782.0,664.9 782.6,665.2 783.2,665.6 783.9,666.0 784.5,666.4 785.1,666.7 785.8,666.9 786.4,666.9 787.1,666.7 787.7,666.4 788.3,665.8 789.0,664.9 789.6,663.7 790.2,662.2 790.9,660.5 791.5,658.5 792.1,656.2 792.8,653.7 793.4,651.0 794.0,648.1 794.7,645.0 795.3,641.9 796.0,638.7 796.6,635.6 797.2,632.5 797.9,629.6 798.5,626.8 799.1,624.3 799.8,622.0 800.4,620.1 801.0,618.5 801.7,617.4 802.3,616.6 802.9,616.3 803.6,616.4 804.2,616.9 804.9,617.7 805.5,619.0 806.1,620.8 806.8,622.9 807.4,625.3 808.0,628.1 808.7,631.2 809.3,634.6 809.9,638.2 810.6,642.0 811.2,645.9 811.8,649.9 812.5,654.0 813.1,658.1 813.8,662.2 814.4,666.3 815.0,670.3 815.7,674.3 816.3,678.1 816.9,681.8 817.6,685.4 818.2,688.8 818.8,692.0 819.5,695.1 820.1,697.9 820.7,700.5 821.4,703.0 822.0,705.3 822.7,707.3 823.3,709.2 823.9,711.0 824.6,712.5 825.2,714.0 825.8,715.3 826.5,716.4 827.1,717.5 827.7,718.4 828.4,719.3 829.0,720.1 829.7,720.8 830.3,721.5 830.9,722.2 831.6,722.8 832.2,723.3 832.8,723.9 833.5,724.4 834.1,724.9 834.7,725.3 835.4,725.7 836.0,726.1 836.6,726.4 837.3,726.7 837.9,726.9 838.6,727.2 839.2,727.4 839.8,727.5 840.5,727.6 841.1,727.5 841.7,727.4 842.4,727.2 843.0,726.8 843.6,726.4 844.3,725.8 844.9,725.1 845.5,724.3 846.2,723.4 846.8,722.4 847.5,721.3 848.1,720.1 848.7,718.9 849.4,717.6 850.0,716.2 850.6,714.9 851.3,713.4 851.9,712.0 852.5,710.7 853.2,709.3 853.8,708.0 854.4,706.8 855.1,705.6 855.7,704.6 856.4,703.6 857.0,702.9 857.6,702.2 858.3,701.7 858.9,701.3 859.5,700.9 860.2,700.7 860.8,700.7 861.4,700.8 862.1,701.2 862.7,701.8 863.3,702.5 864.0,703.4 864.6,704.5 865.3,705.8 865.9,707.2 866.5,708.8 867.2,710.6 867.8,712.5 868.4,714.5 869.1,716.6 869.7,718.9 870.3,721.2 871.0,723.7 871.6,726.2 872.3,728.8 872.9,731.4 873.5,734.1 874.2,736.8 874.8,739.5 875.4,742.3 876.1,745.0 876.7,747.8 877.3,750.6 878.0,753.3 878.6,756.0 879.2,758.7 879.9,761.4 880.5,764.0 881.2,766.6 881.8,769.2 882.4,771.7 883.1,774.1 883.7,776.6 884.3,778.9 885.0,781.2 885.6,783.5 886.2,785.7 886.9,787.9 887.5,790.0 888.1,792.1 888.8,794.2 889.4,796.2 890.1,798.1 890.7,800.1 891.3,802.0 892.0,803.8 892.6,805.6 893.2,807.4 893.9,809.2 894.5,810.9 895.1,812.6 895.8,814.2 896.4,815.8 897.0,817.4 897.7,819.0 898.3,820.5 899.0,822.0 899.6,823.5 900.2,824.9 900.9,826.3 901.5,827.6 902.1,828.9 902.8,830.2 903.4,831.4 904.0,832.6 904.7,833.7 905.3,834.8 905.9,835.8 906.6,836.7 907.2,837.6 907.9,838.5 908.5,839.3 909.1,840.0 909.8,840.7 910.4,841.3 911.0,841.9 911.7,842.3 912.3,842.8 912.9,843.1 913.6,843.4 914.2,843.7 914.9,844.1 915.5,844.4 916.1,844.6 916.8,844.8 917.4,844.9 918.0,844.9 918.7,844.9 919.3,844.8 919.9,844.7 920.6,844.5 921.2,844.3 921.8,844.0 922.5,843.7 923.1,843.4 923.8,843.0 924.4,842.6 925.0,842.1 925.7,841.7 926.3,841.2 926.9,840.6 927.6,840.1 928.2,839.6 928.8,839.0 929.5,838.5 930.1,837.9 930.7,837.4 931.4,836.9 932.0,836.3 932.7,835.8 933.3,835.3 933.9,834.9 934.6,834.4 935.2,834.0 935.8,833.6 936.5,833.3 937.1,832.9 937.7,832.6 938.4,832.4 939.0,832.1 939.6,831.8 940.3,831.5 940.9,831.3 941.6,831.1 942.2,830.9 942.8,830.8 943.5,830.7 944.1,830.6 944.7,830.6 945.4,830.6 946.0,830.6 946.6,830.7 947.3,830.8 947.9,830.9 948.5,831.1 949.2,831.3 949.8,831.5 950.5,831.7 951.1,831.9 951.7,832.2 952.4,832.5 953.0,832.8 953.6,833.1 954.3,833.4 954.9,833.7 955.5,834.0 956.2,834.4 956.8,834.7 957.5,835.1 958.1,835.4 958.7,835.8 959.4,836.2 960.0,836.5 960.6,836.9 961.3,837.2 961.9,837.6 962.5,837.9 963.2,838.3 963.8,838.6 964.4,838.9 965.1,839.2 965.7,839.5 966.4,839.8 967.0,840.1 967.6,840.4 968.3,840.6 968.9,840.9 969.5,841.1 970.2,841.3 970.8,841.5 971.4,841.5 972.1,841.5 972.7,841.5 973.3,841.4 974.0,841.4 974.6,841.3 975.3,841.3 975.9,841.2 976.5,841.1 977.2,841.0 977.8,840.9 978.4,840.7 979.1,840.6 979.7,840.4 980.3,840.3 981.0,840.1 981.6,839.9 982.2,839.7 982.9,839.5 983.5,839.3 984.2,839.1 984.8,838.9 985.4,838.7 986.1,838.5 986.7,838.3 987.3,838.1 988.0,837.8 988.6,837.6 989.2,837.4 989.9,837.2 990.5,837.0 991.2,836.8 991.8,836.5 992.4,836.3 993.1,836.1 993.7,835.9 994.3,835.8 995.0,835.6 995.6,835.4 996.2,835.2 996.9,835.1 997.5,834.9 998.1,834.8 998.8,834.6 999.4,834.5 1000.1,834.4 1000.7,834.3 1001.3,834.4 1002.0,834.5 1002.6,834.7 1003.2,834.8 1003.9,835.0 1004.5,835.2 1005.1,835.4 1005.8,835.6 1006.4,835.8 1007.0,836.0 1007.7,836.3 1008.3,836.5 1009.0,836.8 1009.6,837.1 1010.2,837.3 1010.9,837.6 1011.5,837.9 1012.1,838.2 1012.8,838.5 1013.4,838.9 1014.0,839.2 1014.7,839.5 1015.3,839.9 1015.9,840.2 1016.6,840.6 1017.2,840.9 1017.9,841.3 1018.5,841.7 1019.1,842.0 1019.8,842.4 1020.4,842.8 1021.0,843.2 1021.7,843.5 1022.3,843.9 1022.9,844.3 1023.6,844.7 1024.2,845.0 1024.8,845.4 1025.5,845.8 1026.1,846.2 1026.8,846.5 1027.4,846.9 1028.0,847.2 1028.7,847.6 1029.3,847.9 1029.9,848.3 1030.6,848.6 1031.2,848.9 1031.8,849.2 1032.5,849.5 1033.1,849.8 1033.8,850.1 1034.4,850.4 1035.0,850.6 1035.7,850.9 1036.3,851.1 1036.9,851.4 1037.6,851.6 1038.2,851.8 1038.8,852.0 1039.5,852.2 1040.1,852.3 1040.7,852.5 1041.4,852.6 1042.0,852.7 1042.7,852.8 1043.3,852.8 1043.9,852.9 1044.6,852.9 1045.2,852.9 1045.8,852.9 1046.5,852.8 1047.1,852.7 1047.7,852.5 1048.4,852.3 1049.0,852.0 1049.6,851.7 1050.3,851.4 1050.9,851.1 1051.6,850.7 1052.2,850.3 1052.8,849.8 1053.5,849.3 1054.1,848.8 1054.7,848.2 1055.4,847.6 1056.0,846.9 1056.6,846.2 1057.3,845.5 1057.9,844.7 1058.5,843.8 1059.2,843.0 1059.8,842.0 1060.5,841.1 1061.1,840.1 1061.7,839.0 1062.4,837.9 1063.0,836.7 1063.6,835.6 1064.3,834.3 1064.9,833.1 1065.5,831.8 1066.2,830.4 1066.8,829.0 1067.4,827.6 1068.1,826.2 1068.7,824.8 1069.4,823.3 1070.0,821.8 1070.6,820.3 1071.3,818.7 1071.9,817.2 1072.5,815.6 1073.2,814.1 1073.8,812.5 1074.4,811.0 1075.1,809.4 1075.7,807.9 1076.4,806.3 1077.0,804.8 1077.6,803.3 1078.3,801.8 1078.9,800.3 1079.5,798.8 1080.2,797.4 1080.8,796.0 1081.4,794.6 1082.1,793.2 1082.7,791.9 1083.3,790.5 1084.0,789.2 1084.6,788.0 1085.3,786.7 1085.9,785.5 1086.5,784.3 1087.2,783.1 1087.8,782.0 1088.4,780.8 1089.1,779.7 1089.7,778.7 1090.3,777.6 1091.0,776.5 1091.6,775.5 1092.2,774.5 1092.9,773.5 1093.5,772.5 1094.2,771.6 1094.8,770.6 1095.4,769.7 1096.1,768.8 1096.7,767.9 1097.3,767.0 1098.0,766.1 1098.6,765.2 1099.2,764.3 1099.9,763.4 1100.5,762.5 1101.1,761.7 1101.8,760.8 1102.4,759.9 1103.1,759.1 1103.7,758.2 1104.3,757.4 1105.0,756.5 1105.6,755.6 1106.2,754.8 1106.9,753.9 1107.5,753.0 1108.1,752.2 1108.8,751.3 1109.4,750.4 1110.0,749.6 1110.7,748.7 1111.3,747.8 1112.0,747.0 1112.6,746.1 1113.2,745.3 1113.9,744.4 1114.5,743.6 1115.1,742.7 1115.8,741.9 1116.4,741.1 1117.0,740.2 1117.7,739.5 1118.3,738.7 1119.0,737.9 1119.6,737.2 1120.2,736.4 1120.9,735.8 1121.5,735.1 1122.1,734.5 1122.8,733.8 1123.4,733.3 1124.0,732.8 1124.7,732.3 1125.3,731.8 1125.9,731.4 1126.6,731.1 1127.2,730.8 1127.9,730.6 1128.5,730.4 1129.1,730.3 1129.8,730.3 1130.4,730.4 1131.0,730.6 1131.7,730.8 1132.3,731.2 1132.9,731.6 1133.6,732.0 1134.2,732.6 1134.8,733.2 1135.5,733.9 1136.1,734.6 1136.8,735.4 1137.4,736.3 1138.0,737.3 1138.7,738.3 1139.3,739.4 1139.9,740.6 1140.6,741.8 1141.2,743.1 1141.8,744.4 1142.5,745.8 1143.1,747.2 1143.7,748.7 1144.4,750.2 1145.0,751.8 1145.7,753.3 1146.3,754.9 1146.9,756.6 1147.6,758.2 1148.2,759.9 1148.8,761.6 1149.5,763.3 1150.1,765.0 1150.7,766.7 1151.4,768.5 1152.0,770.2 1152.7,771.9 1153.3,773.6 1153.9,775.3 1154.6,777.0 1155.2,778.7 1155.8,780.4 1156.5,782.0 1157.1,783.7 1157.7,785.3 1158.4,786.9 1159.0,788.5 1159.6,790.0 1160.3,791.6 1160.9,793.1 1161.6,794.6 1162.2,796.0 1162.8,797.4 1163.5,798.8 1164.1,800.2 1164.7,801.6 1165.4,802.9 1166.0,804.2 1166.6,805.4 1167.3,806.7 1167.9,807.9 1168.5,809.0 1169.2,810.2 1169.8,811.3 1170.5,812.3 1171.1,813.4 1171.7,814.4 1172.4,815.4 1173.0,816.3 1173.6,817.2 1174.3,818.1 1174.9,818.9 1175.5,819.7 1176.2,820.5 1176.8,821.3 1177.4,822.0 1178.1,822.6 1178.7,823.3 1179.4,823.9 1180.0,824.4 1180.6,825.0 1181.3,825.5 1181.9,825.9 1182.5,826.3 1183.2,826.7 1183.8,827.1 1184.4,827.4 1185.1,827.6 1185.7,827.9 1186.3,828.0 1187.0,828.2 1187.6,828.3 1188.3,828.3 1188.9,828.3 1189.5,828.2 1190.2,828.1 1190.8,827.9 1191.4,827.7 1192.1,827.5 1192.7,827.2 1193.3,826.8 1194.0,826.5 1194.6,826.0 1195.3,825.6 1195.9,825.1 1196.5,824.5 1197.2,823.9 1197.8,823.3 1198.4,822.6 1199.1,821.9 1199.7,821.1 1200.3,820.3 1201.0,819.5 1201.6,818.6 1202.2,817.7 1202.9,816.8 1203.5,815.8 1204.2,814.8 1204.8,813.7 1205.4,812.6 1206.1,811.5 1206.7,810.3 1207.3,809.2 1208.0,807.9 1208.6,806.7 1209.2,805.5 1209.9,804.2 1210.5,802.9 1211.1,801.6 1211.8,800.2 1212.4,798.9 1213.1,797.5 1213.7,796.1 1214.3,794.8 1215.0,793.4 1215.6,792.0 1216.2,790.6 1216.9,789.2 1217.5,787.8 1218.1,786.4 1218.8,785.0 1219.4,783.6 1220.0,782.2 1220.7,780.8 1221.3,779.4 1222.0,778.1 1222.6,776.7 1223.2,775.4 1223.9,774.0 1224.5,772.7 1225.1,771.4 1225.8,770.2 1226.4,768.9 1227.0,767.7 1227.7,766.4 1228.3,765.2 1228.9,764.1 1229.6,762.9 1230.2,761.8 1230.9,760.6 1231.5,759.5 1232.1,758.5 1232.8,757.4 1233.4,756.4 1234.0,755.4 1234.7,754.4 1235.3,753.5 1235.9,752.5 1236.6,751.6 1237.2,750.7 1237.9,749.8 1238.5,749.0 1239.1,748.2 1239.8,747.4 1240.4,746.6 1241.0,745.8 1241.7,745.1 1242.3,744.4 1242.9,743.7 1243.6,743.0 1244.2,742.3 1244.8,741.7 1245.5,741.1 1246.1,740.5 1246.8,739.9 1247.4,739.3 1248.0,738.8 1248.7,738.2 1249.3,737.7 1249.9,737.2 1250.6,736.8 1251.2,736.3 1251.8,735.8 1252.5,735.4 1253.1,735.0 1253.7,734.6 1254.4,734.2 1255.0,733.8 1255.7,733.4 1256.3,733.1 1256.9,732.8 1257.6,732.4 1258.2,732.1 1258.8,731.8 1259.5,731.6 1260.1,731.3 1260.7,731.0 1261.4,730.8 1262.0,730.6 1262.6,730.3 1263.3,730.1 1263.9,730.0 1264.6,729.8 1265.2,729.6 1265.8,729.5 1266.5,729.3 1267.1,729.2 1267.7,729.1 1268.4,729.0 1269.0,728.9 1269.6,728.8 1270.3,728.8 1270.9,728.8 1271.5,728.8 1272.2,728.8 1272.8,728.9 1273.5,729.0 1274.1,729.1 1274.7,729.2 1275.4,729.3 1276.0,729.4 1276.6,729.6 1277.3,729.7 1277.9,729.9 1278.5,730.1 1279.2,730.3 1279.8,730.5 1280.5,730.8 1281.1,731.0 1281.7,731.3 1282.4,731.6 1283.0,731.9 1283.6,732.2 1284.3,732.6 1284.9,732.9 1285.5,733.3 1286.2,733.7 1286.8,734.1 1287.4,734.6 1288.1,735.0 1288.7,735.5 1289.4,736.0 1290.0,736.5 1290.6,737.0 1291.3,737.5 1291.9,738.1 1292.5,738.6 1293.2,739.2 1293.8,739.8 1294.4,740.4 1295.1,741.1 1295.7,741.7 1296.3,742.4 1297.0,743.1 1297.6,743.8 1298.3,744.5 1298.9,745.2 1299.5,746.0 1300.2,746.7 1300.8,747.5 1301.4,748.3 1302.1,749.1 1302.7,749.9 1303.3,750.8 1304.0,751.6 1304.6,752.5 1305.2,753.3 1305.9,754.2 1306.5,755.1 1307.2,756.0 1307.8,756.9 1308.4,757.8 1309.1,758.8 1309.7,759.7 1310.3,760.6 1311.0,761.6 1311.6,762.6 1312.2,763.5 1312.9,764.5 1313.5,765.5 1314.1,766.5 1314.8,767.5 1315.4,768.5 1316.1,769.5 1316.7,770.5 1317.3,771.5 1318.0,772.5 1318.6,773.5 1319.2,774.6 1319.9,775.6 1320.5,776.6 1321.1,777.6 1321.8,778.7 1322.4,779.7 1323.1,780.7 1323.7,781.7 1324.3,782.8 1325.0,783.8 1325.6,784.8 1326.2,785.8 1326.9,786.9 1327.5,787.9 1328.1,788.9 1328.8,789.9 1329.4,790.9 1330.0,791.9 1330.7,792.9 1331.3,793.9 1332.0,794.9 1332.6,795.9 1333.2,796.9 1333.9,797.9 1334.5,798.8 1335.1,799.8 1335.8,800.8 1336.4,801.7 1337.0,802.7 1337.7,803.6 1338.3,804.5 1338.9,805.5 1339.6,806.4 1340.2,807.3 1340.9,808.2 1341.5,809.1 1342.1,810.0 1342.8,810.9 1343.4,811.8 1344.0,812.6 1344.7,813.5 1345.3,814.3 1345.9,815.2 1346.6,816.0 1347.2,816.8 1347.8,817.6 1348.5,818.4 1349.1,819.2 1349.8,820.0 1350.4,820.8 1351.0,821.5 1351.7,822.3 1352.3,823.0 1352.9,823.8 1353.6,824.5 1354.2,825.2 1354.8,825.9 1355.5,826.6 1356.1,827.2 1356.8,827.9 1357.4,828.6 1358.0,829.2 1358.7,829.8 1359.3,830.4 1359.9,831.0 1360.6,831.6 1361.2,832.2 1361.8,832.8 1362.5,833.3 1363.1,833.9 1363.7,834.4 1364.4,834.9 1365.0,835.4 1365.7,835.9 1366.3,836.4 1366.9,836.8 1367.6,837.3 1368.2,837.7 1368.8,838.1 1369.5,838.5 1370.1,838.9 1370.7,839.3 1371.4,839.7 1372.0,840.0 1372.6,840.4 1373.3,840.7 1373.9,841.0 1374.6,841.3 1375.2,841.6 1375.8,841.8 1376.5,842.1 1377.1,842.3 1377.7,842.5 1378.4,842.8 1379.0,842.9 1379.6,843.1 1380.3,843.3 1380.9,843.4 1381.5,843.6 1382.2,843.7 1382.8,843.8 1383.5,843.9 1384.1,844.0 1384.7,844.1 1385.4,844.1 1386.0,844.2 1386.6,844.2 1387.3,844.1 1387.9,844.1 1388.5,844.0 1389.2,844.0 1389.8,843.9 1390.4,843.8 1391.1,843.7 1391.7,843.5 1392.4,843.4 1393.0,843.2 1393.6,843.1 1394.3,842.9 1394.9,842.7 1395.5,842.5 1396.2,842.3 1396.8,842.1 1397.4,841.9 1398.1,841.6 1398.7,841.4 1399.4,841.1 1400.0,840.8 1400.6,840.5 1401.3,840.3 1401.9,840.0 1402.5,839.6 1403.2,839.3 1403.8,839.0 1404.4,838.7 1405.1,838.3 1405.7,838.0 1406.3,837.6 1407.0,837.2 1407.6,836.9 1408.3,836.5 1408.9,836.1 1409.5,835.7 1410.2,835.3 1410.8,834.9 1411.4,834.5 1412.1,834.1 1412.7,833.7 1413.3,833.2 1414.0,832.8 1414.6,832.4 1415.2,831.9 1415.9,831.5 1416.5,831.1 1417.2,830.6 1417.8,830.2 1418.4,829.7 1419.1,829.2 1419.7,828.8 1420.3,828.3 1421.0,827.8 1421.6,827.4 1422.2,826.9 1422.9,826.4 1423.5,826.0 1424.1,825.5 1424.8,825.0 1425.4,824.5 1426.1,824.0 1426.7,823.6 1427.3,823.1 1428.0,822.6 1428.6,822.1 1429.2,821.6 1429.9,821.1 1430.5,820.7 1431.1,820.2 1431.8,819.7 1432.4,819.2 1433.0,818.7 1433.7,818.2 1434.3,817.8 1435.0,817.3 1435.6,816.8 1436.2,816.3 1436.9,815.8 1437.5,815.4 1438.1,814.9 1438.8,814.4 1439.4,813.9 1440.0,813.5 1440.7,813.0 1441.3,812.5 1442.0,812.0 1442.6,811.6 1443.2,811.1 1443.9,810.6 1444.5,810.2 1445.1,809.7 1445.8,809.2 1446.4,808.8 1447.0,808.3 1447.7,807.9 1448.3,807.4 1448.9,807.0 1449.6,806.5 1450.2,806.1 1450.9,805.6 1451.5,805.2 1452.1,804.7 1452.8,804.3 1453.4,803.9 1454.0,803.4 1454.7,803.0 1455.3,802.6 1455.9,802.1 1456.6,801.7 1457.2,801.3 1457.8,800.9 1458.5,800.5 1459.1,800.0 1459.8,799.6 1460.4,799.2 1461.0,798.8 1461.7,798.4 1462.3,798.0 1462.9,797.6 1463.6,797.2 1464.2,796.8 1464.8,796.4 1465.5,796.1 1466.1,795.7 1466.7,795.3 1467.4,794.9 1468.0,794.5 1468.7,794.2 1469.3,793.8 1469.9,793.4 1470.6,793.1 1471.2,792.7 1471.8,792.4 1472.5,792.0 1473.1,791.7 1473.7,791.4 1474.4,791.0 1475.0,790.7 1475.6,790.4 1476.3,790.0 1476.9,789.7 1477.6,789.4 1478.2,789.1 1478.8,788.8 1479.5,788.5 1480.1,788.2 1480.7,787.9 1481.4,787.6 1482.0,787.4 1482.6,787.1 1483.3,786.8 1483.9,786.6 1484.6,786.3 1485.2,786.1 1485.8,785.8 1486.5,785.6 1487.1,785.3 1487.7,785.1 1488.4,784.9 1489.0,784.7 1489.6,784.5 1490.3,784.3 1490.9,784.1 1491.5,783.9 1492.2,783.7 1492.8,783.5 1493.5,783.4 1494.1,783.2 1494.7,783.1 1495.4,782.9 1496.0,782.8 1496.6,782.7 1497.3,782.5 1497.9,782.4 1498.5,782.3 1499.2,782.2 1499.8,782.1 1500.4,782.0 1501.1,782.0 1501.7,781.9 1502.4,781.9 1503.0,781.8 1503.6,781.8 1504.3,781.7 1504.9,781.7 1505.5,781.7 1506.2,781.7 1506.8,781.7 1507.4,781.7 1508.1,781.7 1508.7,781.8 1509.3,781.9 1510.0,782.0 1510.6,782.1 1511.3,782.2 1511.9,782.3 1512.5,782.4 1513.2,782.6 1513.8,782.7 1514.4,782.9 1515.1,783.1 1515.7,783.2 1516.3,783.4 1517.0,783.6 1517.6,783.8 1518.2,784.0 1518.9,784.3 1519.5,784.5 1520.2,784.7 1520.8,785.0 1521.4,785.2 1522.1,785.5 1522.7,785.8 1523.3,786.1 1524.0,786.4 1524.6,786.7 1525.2,787.0 1525.9,787.3 1526.5,787.6 1527.2,788.0 1527.8,788.3 1528.4,788.7 1529.1,789.0 1529.7,789.4 1530.3,789.8 1531.0,790.2 1531.6,790.6 1532.2,791.0 1532.9,791.4 1533.5,791.8 1534.1,792.2 1534.8,792.7 1535.4,793.1 1536.1,793.5 1536.7,794.0 1537.3,794.4 1538.0,794.9 1538.6,795.4 1539.2,795.9 1539.9,796.3 1540.5,796.8 1541.1,797.3 1541.8,797.8 1542.4,798.3 1543.0,798.8 1543.7,799.3 1544.3,799.9 1545.0,800.4 1545.6,800.9 1546.2,801.4 1546.9,802.0 1547.5,802.5 1548.1,803.0 1548.8,803.6 1549.4,804.1 1550.0,804.7 1550.7,805.2 1551.3,805.8 1551.9,806.3 1552.6,806.9 1553.2,807.4 1553.9,808.0 1554.5,808.6 1555.1,809.1 1555.8,809.7 1556.4,810.2 1557.0,810.8 1557.7,811.4 1558.3,811.9 1558.9,812.5 1559.6,813.1 1560.2,813.6 1560.9,814.2 1561.5,814.8 1562.1,815.3 1562.8,815.9 1563.4,816.4 1564.0,817.0 1564.7,817.5 1565.3,818.1 1565.9,818.7 1566.6,819.2 1567.2,819.8 1567.8,820.3 1568.5,820.8 1569.1,821.4 1569.8,821.9 1570.4,822.5 1571.0,823.0 1571.7,823.5 1572.3,824.0 1572.9,824.6 1573.6,825.1 1574.2,825.6 1574.8,826.1 1575.5,826.6 1576.1,827.1 1576.7,827.6 1577.4,828.1 1578.0,828.6 1578.7,829.0 1579.3,829.5 1579.9,830.0 1580.6,830.5 1581.2,830.9 1581.8,831.4 1582.5,831.8 1583.1,832.3 1583.7,832.7 1584.4,833.1 1585.0,833.6 1585.6,834.0 1586.3,834.4 1586.9,834.8 1587.6,835.2 1588.2,835.6 1588.8,836.0 1589.5,836.4 1590.1,836.8 1590.7,837.1 1591.4,837.5 1592.0,837.9 1592.6,838.2 1593.3,838.6 1593.9,838.9 1594.5,839.2 1595.2,839.6 1595.8,839.9 1596.5,840.2 1597.1,840.5 1597.7,840.8 1598.4,841.1 1599.0,841.4 1599.6,841.7 1600.3,841.9 1600.9,842.2 1601.5,842.5 1602.2,842.7 1602.8,842.9 1603.5,843.2 1604.1,843.4 1604.7,843.6 1605.4,843.8 1606.0,844.1 1606.6,844.3 1607.3,844.4 1607.9,844.6 1608.5,844.8 1609.2,845.0 1609.8,845.1 1610.4,845.3 1611.1,845.5 1611.7,845.6 1612.4,845.7 1613.0,845.9 1613.2,845.9" fill="none" stroke="#1f77b4" stroke-width="2.0833" stroke-linejoin="round" stroke-linecap="square"/></g>
<rect x="225.5" y="589.5" width="1395.0" height="267.0" fill="none" stroke="#000" stroke-width="1.111" stroke-linejoin="miter"/>
<path d="M231.5 856.5v5.41M508.5 856.5v5.41M784.5 856.5v5.41M1060.5 856.5v5.41M1337.5 856.5v5.41M1613.5 856.5v5.41" stroke="#000" stroke-width="1.111" fill="none"/>
<text x="231.5" y="891" text-anchor="middle">0</text>
<text x="507.75" y="891" text-anchor="middle">1000</text>
<text x="784" y="891" text-anchor="middle">2000</text>
<text x="1060.25" y="891" text-anchor="middle">3000</text>
<text x="1336.5" y="891" text-anchor="middle">4000</text>
<text x="1612.75" y="891" text-anchor="middle">5000</text>
<path d="M225.5 717.5h-5.41M225.5 854.5h-5.41" stroke="#000" stroke-width="1.111" fill="none"/>
<text x="215.0" y="730" text-anchor="end">0.2</text>
<text x="215.0" y="867" text-anchor="end">0.0</text>
<text transform="translate(148 723.7) rotate(-90)" text-anchor="middle">L-S Power</text>
<text x="921.7" y="930" text-anchor="middle">Rotational Period (Hours)</text>
<text x="1059.4" y="616" text-anchor="middle">Period: 46.801 h</text>
<g clip-path="url(#c2)">
<path d="M269 1116.3V1155.9M281 1141.55V1162.85M307 1018.65V1117.35M338 1126.55V1153.05M355 1078.5V1171.3M372 1113.25V1148.95M394 1122.45V1151.95M523 1121.1V1185.7M791 1106.3V1133.9M926 1044.35V1101.85M1118 1125V1213.8M1128 1076.45V1161.95M1266 1082.2V1159M1284 1024.1V1096.9M1571 1069.2V1115.8" stroke="#117733" stroke-width="2.0833" fill="none"/>
<path d="M243 1108.05V1186.75M246 1056.4V1118M288 1122.4V1208M331 1080.2V1136M337 1065.45V1127.95M345 1099.6V1188.2M385 1079.45V1148.95M407 1152.45V1227.75M460 1130.45V1205.15M467 1122.15V1168.65M484 1146.55V1212.05M486 1074.95V1161.65M534 1095.65V1168.15M535 1152.3V1213.9M548 1115.3V1183.1M559 1136.35V1157.05M560 1066.25V1138.35M563 1072.2V1152.2M563 1092.7V1154.7M649 1065.4V1146.2M799 1005.4V1076.2M822 964.4V1038M885 989.4V1071M893 1005.65V1100.35M981 1078.4V1173.2M989 1091.6V1174.2M1150 1135V1190M1212 1129.4V1185.2M1236 1099.2V1148M1258 1097.3V1167.3M1267 1093.15V1154.85M1403 1071.3V1140.9M1424 1114.7V1171.3M1430 1078.2V1138M1437 1003.7V1100.7M1542 1007.4V1094.2" stroke="#882255" stroke-width="2.0833" fill="none"/>
<path d="M232.5,1094.39 234.5,1095.09 236.5,1095.78 238.5,1096.48 240.5,1097.19 242.5,1097.90 244.5,1098.61 246.5,1099.33 248.5,1100.05 250.5,1100.78 252.5,1101.51 254.5,1102.24 256.5,1102.97 258.5,1103.71 260.5,1104.45 262.5,1105.19 264.5,1105.93 266.5,1106.68 268.5,1107.43 270.5,1108.17 272.5,1108.92 274.5,1109.67 276.5,1110.42 278.5,1111.16 280.5,1111.91 282.5,1112.66 284.5,1113.41 286.5,1114.15 288.5,1114.90 290.5,1115.64 292.5,1116.38 294.5,1117.12 296.5,1117.86 298.5,1118.60 300.5,1119.33 302.5,1120.06 304.5,1120.78 306.5,1121.51 308.5,1122.23 310.5,1122.94 312.5,1123.65 314.5,1124.36 316.5,1125.06 318.5,1125.76 320.5,1126.45 322.5,1127.14 324.5,1127.82 326.5,1128.50 328.5,1129.16 330.5,1129.83 332.5,1130.49 334.5,1131.14 336.5,1131.78 338.5,1132.42 340.5,1133.05 342.5,1133.67 344.5,1134.28 346.5,1134.89 348.5,1135.49 350.5,1136.08 352.5,1136.66 354.5,1137.23 356.5,1137.80 358.5,1138.35 360.5,1138.90 362.5,1139.43 364.5,1139.96 366.5,1140.48 368.5,1140.98 370.5,1141.48 372.5,1141.97 374.5,1142.44 376.5,1142.91 378.5,1143.36 380.5,1143.81 382.5,1144.24 384.5,1144.66 386.5,1145.07 388.5,1145.47 390.5,1145.86 392.5,1146.23 394.5,1146.60 396.5,1146.95 398.5,1147.29 400.5,1147.62 402.5,1147.93 404.5,1148.24 406.5,1148.53 408.5,1148.80 410.5,1149.07 412.5,1149.32 414.5,1149.56 416.5,1149.79 418.5,1150.00 420.5,1150.20 422.5,1150.39 424.5,1150.56 426.5,1150.72 428.5,1150.87 430.5,1151.00 432.5,1151.12 434.5,1151.23 436.5,1151.32 438.5,1151.40 440.5,1151.47 442.5,1151.52 444.5,1151.56 446.5,1151.59 448.5,1151.60 450.5,1151.60 452.5,1151.58 454.5,1151.55 456.5,1151.51 458.5,1151.45 460.5,1151.38 462.5,1151.30 464.5,1151.20 466.5,1151.09 468.5,1150.97 470.5,1150.83 472.5,1150.68 474.5,1150.52 476.5,1150.34 478.5,1150.15 480.5,1149.95 482.5,1149.73 484.5,1149.50 486.5,1149.26 488.5,1149.00 490.5,1148.74 492.5,1148.45 494.5,1148.16 496.5,1147.86 498.5,1147.54 500.5,1147.21 502.5,1146.86 504.5,1146.51 506.5,1146.14 508.5,1145.76 510.5,1145.37 512.5,1144.97 514.5,1144.56 516.5,1144.13 518.5,1143.70 520.5,1143.25 522.5,1142.79 524.5,1142.33 526.5,1141.85 528.5,1141.36 530.5,1140.86 532.5,1140.35 534.5,1139.83 536.5,1139.30 538.5,1138.76 540.5,1138.21 542.5,1137.66 544.5,1137.09 546.5,1136.51 548.5,1135.93 550.5,1135.34 552.5,1134.74 554.5,1134.13 556.5,1133.51 558.5,1132.89 560.5,1132.26 562.5,1131.62 564.5,1130.97 566.5,1130.32 568.5,1129.66 570.5,1129.00 572.5,1128.33 574.5,1127.65 576.5,1126.97 578.5,1126.28 580.5,1125.58 582.5,1124.89 584.5,1124.18 586.5,1123.47 588.5,1122.76 590.5,1122.05 592.5,1121.33 594.5,1120.60 596.5,1119.87 598.5,1119.14 600.5,1118.41 602.5,1117.68 604.5,1116.94 606.5,1116.20 608.5,1115.46 610.5,1114.71 612.5,1113.97 614.5,1113.22 616.5,1112.47 618.5,1111.73 620.5,1110.98 622.5,1110.23 624.5,1109.48 626.5,1108.73 628.5,1107.99 630.5,1107.24 632.5,1106.49 634.5,1105.75 636.5,1105.01 638.5,1104.27 640.5,1103.53 642.5,1102.79 644.5,1102.06 646.5,1101.33 648.5,1100.60 650.5,1099.87 652.5,1099.15 654.5,1098.43 656.5,1097.72 658.5,1097.01 660.5,1096.31 662.5,1095.61 664.5,1094.91 666.5,1094.22 668.5,1093.54 670.5,1092.86 672.5,1092.19 674.5,1091.52 676.5,1090.86 678.5,1090.20 680.5,1089.56 682.5,1088.92 684.5,1088.28 686.5,1087.66 688.5,1087.04 690.5,1086.43 692.5,1085.83 694.5,1085.23 696.5,1084.65 698.5,1084.07 700.5,1083.50 702.5,1082.94 704.5,1082.39 706.5,1081.85 708.5,1081.32 710.5,1080.79 712.5,1080.28 714.5,1079.78 716.5,1079.29 718.5,1078.81 720.5,1078.33 722.5,1077.87 724.5,1077.42 726.5,1076.99 728.5,1076.56 730.5,1076.14 732.5,1075.74 734.5,1075.34 736.5,1074.96 738.5,1074.59 740.5,1074.23 742.5,1073.89 744.5,1073.55 746.5,1073.23 748.5,1072.92 750.5,1072.63 752.5,1072.34 754.5,1072.07 756.5,1071.81 758.5,1071.56 760.5,1071.33 762.5,1071.11 764.5,1070.90 766.5,1070.71 768.5,1070.53 770.5,1070.36 772.5,1070.21 774.5,1070.07 776.5,1069.94 778.5,1069.82 780.5,1069.72 782.5,1069.64 784.5,1069.56 786.5,1069.50 788.5,1069.46 790.5,1069.42 792.5,1069.41 794.5,1069.40 796.5,1069.41 798.5,1069.43 800.5,1069.47 802.5,1069.51 804.5,1069.58 806.5,1069.65 808.5,1069.74 810.5,1069.85 812.5,1069.96 814.5,1070.09 816.5,1070.24 818.5,1070.39 820.5,1070.56 822.5,1070.75 824.5,1070.94 826.5,1071.15 828.5,1071.38 830.5,1071.61 832.5,1071.86 834.5,1072.12 836.5,1072.40 838.5,1072.68 840.5,1072.98 842.5,1073.29 844.5,1073.62 846.5,1073.96 848.5,1074.30 850.5,1074.66 852.5,1075.04 854.5,1075.42 856.5,1075.82 858.5,1076.22 860.5,1076.64 862.5,1077.07 864.5,1077.51 866.5,1077.96 868.5,1078.43 870.5,1078.90 872.5,1079.38 874.5,1079.88 876.5,1080.38 878.5,1080.90 880.5,1081.42 882.5,1081.96 884.5,1082.50 886.5,1083.05 888.5,1083.61 890.5,1084.18 892.5,1084.76 894.5,1085.35 896.5,1085.95 898.5,1086.55 900.5,1087.16 902.5,1087.78 904.5,1088.41 906.5,1089.04 908.5,1089.69 910.5,1090.33 912.5,1090.99 914.5,1091.65 916.5,1092.32 918.5,1092.99 920.5,1093.67 922.5,1094.36 924.5,1095.05 926.5,1095.75 928.5,1096.45 930.5,1097.15 932.5,1097.86 934.5,1098.58 936.5,1099.30 938.5,1100.02 940.5,1100.74 942.5,1101.47 944.5,1102.20 946.5,1102.94 948.5,1103.67 950.5,1104.41 952.5,1105.15 954.5,1105.90 956.5,1106.64 958.5,1107.39 960.5,1108.13 962.5,1108.88 964.5,1109.63 966.5,1110.38 968.5,1111.13 970.5,1111.87 972.5,1112.62 974.5,1113.37 976.5,1114.12 978.5,1114.86 980.5,1115.60 982.5,1116.35 984.5,1117.09 986.5,1117.82 988.5,1118.56 990.5,1119.29 992.5,1120.02 994.5,1120.75 996.5,1121.47 998.5,1122.19 1000.5,1122.90 1002.5,1123.62 1004.5,1124.32 1006.5,1125.03 1008.5,1125.72 1010.5,1126.42 1012.5,1127.10 1014.5,1127.79 1016.5,1128.46 1018.5,1129.13 1020.5,1129.80 1022.5,1130.45 1024.5,1131.10 1026.5,1131.75 1028.5,1132.39 1030.5,1133.02 1032.5,1133.64 1034.5,1134.25 1036.5,1134.86 1038.5,1135.46 1040.5,1136.05 1042.5,1136.63 1044.5,1137.20 1046.5,1137.77 1048.5,1138.32 1050.5,1138.87 1052.5,1139.41 1054.5,1139.93 1056.5,1140.45 1058.5,1140.96 1060.5,1141.46 1062.5,1141.94 1064.5,1142.42 1066.5,1142.89 1068.5,1143.34 1070.5,1143.79 1072.5,1144.22 1074.5,1144.64 1076.5,1145.05 1078.5,1145.45 1080.5,1145.84 1082.5,1146.22 1084.5,1146.58 1086.5,1146.93 1088.5,1147.27 1090.5,1147.60 1092.5,1147.92 1094.5,1148.22 1096.5,1148.51 1098.5,1148.79 1100.5,1149.06 1102.5,1149.31 1104.5,1149.55 1106.5,1149.78 1108.5,1149.99 1110.5,1150.19 1112.5,1150.38 1114.5,1150.55 1116.5,1150.71 1118.5,1150.86 1120.5,1151.00 1122.5,1151.12 1124.5,1151.22 1126.5,1151.32 1128.5,1151.40 1130.5,1151.47 1132.5,1151.52 1134.5,1151.56 1136.5,1151.59 1138.5,1151.60 1140.5,1151.60 1142.5,1151.58 1144.5,1151.55 1146.5,1151.51 1148.5,1151.46 1150.5,1151.39 1152.5,1151.31 1154.5,1151.21 1156.5,1151.10 1158.5,1150.98 1160.5,1150.84 1162.5,1150.69 1164.5,1150.53 1166.5,1150.35 1168.5,1150.16 1170.5,1149.96 1172.5,1149.74 1174.5,1149.51 1176.5,1149.27 1178.5,1149.02 1180.5,1148.75 1182.5,1148.47 1184.5,1148.18 1186.5,1147.87 1188.5,1147.55 1190.5,1147.22 1192.5,1146.88 1194.5,1146.53 1196.5,1146.16 1198.5,1145.78 1200.5,1145.39 1202.5,1144.99 1204.5,1144.58 1206.5,1144.15 1208.5,1143.72 1210.5,1143.27 1212.5,1142.82 1214.5,1142.35 1216.5,1141.87 1218.5,1141.38 1220.5,1140.88 1222.5,1140.37 1224.5,1139.85 1226.5,1139.33 1228.5,1138.79 1230.5,1138.24 1232.5,1137.68 1234.5,1137.12 1236.5,1136.54 1238.5,1135.96 1240.5,1135.37 1242.5,1134.77 1244.5,1134.16 1246.5,1133.54 1248.5,1132.92 1250.5,1132.29 1252.5,1131.65 1254.5,1131.01 1256.5,1130.35 1258.5,1129.70 1260.5,1129.03 1262.5,1128.36 1264.5,1127.68 1266.5,1127.00 1268.5,1126.31 1270.5,1125.62 1272.5,1124.92 1274.5,1124.22 1276.5,1123.51 1278.5,1122.80 1280.5,1122.08 1282.5,1121.36 1284.5,1120.64 1286.5,1119.91 1288.5,1119.18 1290.5,1118.45 1292.5,1117.71 1294.5,1116.97 1296.5,1116.23 1298.5,1115.49 1300.5,1114.75 1302.5,1114.00 1304.5,1113.26 1306.5,1112.51 1308.5,1111.76 1310.5,1111.01 1312.5,1110.27 1314.5,1109.52 1316.5,1108.77 1318.5,1108.02 1320.5,1107.28 1322.5,1106.53 1324.5,1105.79 1326.5,1105.04 1328.5,1104.30 1330.5,1103.56 1332.5,1102.83 1334.5,1102.09 1336.5,1101.36 1338.5,1100.63 1340.5,1099.91 1342.5,1099.19 1344.5,1098.47 1346.5,1097.76 1348.5,1097.05 1350.5,1096.34 1352.5,1095.64 1354.5,1094.95 1356.5,1094.26 1358.5,1093.57 1360.5,1092.89 1362.5,1092.22 1364.5,1091.55 1366.5,1090.89 1368.5,1090.24 1370.5,1089.59 1372.5,1088.95 1374.5,1088.31 1376.5,1087.69 1378.5,1087.07 1380.5,1086.46 1382.5,1085.86 1384.5,1085.26 1386.5,1084.67 1388.5,1084.10 1390.5,1083.53 1392.5,1082.97 1394.5,1082.42 1396.5,1081.87 1398.5,1081.34 1400.5,1080.82 1402.5,1080.31 1404.5,1079.80 1406.5,1079.31 1408.5,1078.83 1410.5,1078.36 1412.5,1077.90 1414.5,1077.45 1416.5,1077.01 1418.5,1076.58 1420.5,1076.16 1422.5,1075.76 1424.5,1075.36 1426.5,1074.98 1428.5,1074.61 1430.5,1074.25 1432.5,1073.90 1434.5,1073.57 1436.5,1073.25 1438.5,1072.94 1440.5,1072.64 1442.5,1072.35 1444.5,1072.08 1446.5,1071.82 1448.5,1071.58 1450.5,1071.34 1452.5,1071.12 1454.5,1070.91 1456.5,1070.72 1458.5,1070.54 1460.5,1070.37 1462.5,1070.21 1464.5,1070.07 1466.5,1069.94 1468.5,1069.83 1470.5,1069.73 1472.5,1069.64 1474.5,1069.57 1476.5,1069.51 1478.5,1069.46 1480.5,1069.43 1482.5,1069.41 1484.5,1069.40 1486.5,1069.41 1488.5,1069.43 1490.5,1069.46 1492.5,1069.51 1494.5,1069.57 1496.5,1069.65 1498.5,1069.74 1500.5,1069.84 1502.5,1069.96 1504.5,1070.09 1506.5,1070.23 1508.5,1070.39 1510.5,1070.56 1512.5,1070.74 1514.5,1070.93 1516.5,1071.14 1518.5,1071.37 1520.5,1071.60 1522.5,1071.85 1524.5,1072.11 1526.5,1072.38 1528.5,1072.67 1530.5,1072.97 1532.5,1073.28 1534.5,1073.60 1536.5,1073.94 1538.5,1074.29 1540.5,1074.65 1542.5,1075.02 1544.5,1075.40 1546.5,1075.80 1548.5,1076.20 1550.5,1076.62 1552.5,1077.05 1554.5,1077.49 1556.5,1077.94 1558.5,1078.40 1560.5,1078.88 1562.5,1079.36 1564.5,1079.85 1566.5,1080.36 1568.5,1080.87 1570.5,1081.39 1572.5,1081.93 1574.5,1082.47 1576.5,1083.02 1578.5,1083.58 1580.5,1084.15 1582.5,1084.73 1584.5,1085.32 1586.5,1085.92 1588.5,1086.52 1590.5,1087.13 1592.5,1087.75 1594.5,1088.38 1596.5,1089.01 1598.5,1089.65 1600.5,1090.30 1602.5,1090.96 1604.5,1091.62 1606.5,1092.29 1608.5,1092.96 1610.5,1093.64 1612.5,1094.33 1613.1,1094.53" fill="none" stroke="#1f77b4" stroke-width="2.0833" stroke-linejoin="round" stroke-linecap="square"/>
<g fill="#117733"><circle cx="269.5" cy="1136.5" r="4.17"/><circle cx="281.5" cy="1152.5" r="4.17"/><circle cx="307.5" cy="1068.5" r="4.17"/><circle cx="338.5" cy="1140.5" r="4.17"/><circle cx="355.5" cy="1125.5" r="4.17"/><circle cx="372.5" cy="1131.5" r="4.17"/><circle cx="394.5" cy="1137.5" r="4.17"/><circle cx="523.5" cy="1153.5" r="4.17"/><circle cx="791.5" cy="1120.5" r="4.17"/><circle cx="926.5" cy="1073.5" r="4.17"/><circle cx="1118.5" cy="1169.5" r="4.17"/><circle cx="1128.5" cy="1119.5" r="4.17"/><circle cx="1266.5" cy="1120.5" r="4.17"/><circle cx="1284.5" cy="1060.5" r="4.17"/><circle cx="1571.5" cy="1092.5" r="4.17"/></g>
<g fill="#882255"><circle cx="243.5" cy="1147.5" r="4.17"/><circle cx="246.5" cy="1087.5" r="4.17"/><circle cx="288.5" cy="1165.5" r="4.17"/><circle cx="331.5" cy="1108.5" r="4.17"/><circle cx="337.5" cy="1096.5" r="4.17"/><circle cx="345.5" cy="1144.5" r="4.17"/><circle cx="385.5" cy="1114.5" r="4.17"/><circle cx="407.5" cy="1190.5" r="4.17"/><circle cx="460.5" cy="1168.5" r="4.17"/><circle cx="467.5" cy="1145.5" r="4.17"/><circle cx="484.5" cy="1179.5" r="4.17"/><circle cx="486.5" cy="1118.5" r="4.17"/><circle cx="534.5" cy="1132.5" r="4.17"/><circle cx="535.5" cy="1183.5" r="4.17"/><circle cx="548.5" cy="1149.5" r="4.17"/><circle cx="559.5" cy="1146.5" r="4.17"/><circle cx="560.5" cy="1102.5" r="4.17"/><circle cx="563.5" cy="1112.5" r="4.17"/><circle cx="563.5" cy="1123.5" r="4.17"/><circle cx="649.5" cy="1106.5" r="4.17"/><circle cx="799.5" cy="1041.5" r="4.17"/><circle cx="822.5" cy="1001.5" r="4.17"/><circle cx="885.5" cy="1030.5" r="4.17"/><circle cx="893.5" cy="1053.5" r="4.17"/><circle cx="981.5" cy="1126.5" r="4.17"/><circle cx="989.5" cy="1133.5" r="4.17"/><circle cx="1150.5" cy="1162.5" r="4.17"/><circle cx="1212.5" cy="1157.5" r="4.17"/><circle cx="1236.5" cy="1123.5" r="4.17"/><circle cx="1258.5" cy="1132.5" r="4.17"/><circle cx="1267.5" cy="1124.5" r="4.17"/><circle cx="1403.5" cy="1106.5" r="4.17"/><circle cx="1424.5" cy="1143.5" r="4.17"/><circle cx="1430.5" cy="1108.5" r="4.17"/><circle cx="1437.5" cy="1052.5" r="4.17"/><circle cx="1542.5" cy="1051.5" r="4.17"/></g>
</g>
<rect x="225.5" y="962.5" width="1395.0" height="267.0" fill="none" stroke="#000" stroke-width="1.111" stroke-linejoin="miter"/>
<path d="M232.5 1229.5v5.41M527.5 1229.5v5.41M822.5 1229.5v5.41M1117.5 1229.5v5.41M1412.5 1229.5v5.41" stroke="#000" stroke-width="1.111" fill="none"/>
<text x="231.8" y="1265" text-anchor="middle">0</text>
<text x="526.8" y="1265" text-anchor="middle">10</text>
<text x="821.8" y="1265" text-anchor="middle">20</text>
<text x="1116.8" y="1265" text-anchor="middle">30</text>
<text x="1411.8" y="1265" text-anchor="middle">40</text>
<path d="M225.5 982.5h-5.41M225.5 1097.5h-5.41M225.5 1212.5h-5.41" stroke="#000" stroke-width="1.111" fill="none"/>
<text x="215.0" y="995" text-anchor="end">14.5</text>
<text x="215.0" y="1110" text-anchor="end">14.0</text>
<text x="215.0" y="1225" text-anchor="end">13.5</text>
<text transform="translate(127 1096) rotate(-90)" text-anchor="middle">H (mag)</text>
<text x="922.5" y="1303" text-anchor="middle">Phase (hours)</text>
<g clip-path="url(#c3)">
<path d="M268 1525.2V1561M286 1513.45V1542.95M291 1487.45V1538.95M301 1439.2V1485.8M301 1468.8V1503.8M306 1444.6V1483.2M390 1460.25V1521.95M397 1409.55V1485.05M553 1418.3V1518.1M1186 1400.2V1520.8M1399 1342V1471M1442 1350.9V1445.5M1521 1378V1491M1521 1444.8V1557.8M1534 1448.2V1534" stroke="#117733" stroke-width="2.0833" fill="none"/>
<path d="M232 1481.6V1508.2M440 1439.4V1499M474 1527.4V1601M552 1427.4V1491M1091 1481.4V1579M1165 1489.25V1591.75M1186 1390.2V1482.2M1239 1386.35V1511.85M1247 1393.25V1484.95M1265 1419.4V1501M1313 1434.55V1524.05M1334 1465.35V1555.05M1341 1431.55V1537.05M1366 1337.1V1433.1M1381 1354.35V1461.85M1399 1390.2V1470.4M1399 1413.6V1483.8M1420 1380.2V1492.8M1420 1450.2V1546.2M1420 1474.5V1556.7M1427 1459.35V1530.85M1435 1390.2V1484.4M1435 1406.3V1496.3M1435 1421.4V1511.4M1435 1449.3V1539.3M1435 1426.4V1506.4M1435 1493.6V1573.6M1443 1481.35V1559.05M1501 1428.4V1551M1501 1439.8V1550.8M1504 1486.7V1596.7M1522 1455.5V1526.9M1547 1432V1512.6M1588 1388.25V1501.95M1595 1372.25V1496.75M1613 1430.15V1546.85" stroke="#882255" stroke-width="2.0833" fill="none"/>
<path d="M225.0 1477H1620.0" stroke="#000" stroke-width="2.0833" stroke-dasharray="7.708 3.333" fill="none"/>
<g fill="#117733"><circle cx="268.5" cy="1543.5" r="4.17"/><circle cx="286.5" cy="1528.5" r="4.17"/><circle cx="291.5" cy="1513.5" r="4.17"/><circle cx="301.5" cy="1462.5" r="4.17"/><circle cx="301.5" cy="1486.5" r="4.17"/><circle cx="306.5" cy="1464.5" r="4.17"/><circle cx="390.5" cy="1491.5" r="4.17"/><circle cx="397.5" cy="1447.5" r="4.17"/><circle cx="553.5" cy="1468.5" r="4.17"/><circle cx="1186.5" cy="1460.5" r="4.17"/><circle cx="1399.5" cy="1406.5" r="4.17"/><circle cx="1442.5" cy="1398.5" r="4.17"/><circle cx="1521.5" cy="1434.5" r="4.17"/><circle cx="1521.5" cy="1501.5" r="4.17"/><circle cx="1534.5" cy="1491.5" r="4.17"/></g>
<g fill="#882255"><circle cx="232.5" cy="1495.5" r="4.17"/><circle cx="440.5" cy="1469.5" r="4.17"/><circle cx="474.5" cy="1564.5" r="4.17"/><circle cx="552.5" cy="1459.5" r="4.17"/><circle cx="1091.5" cy="1530.5" r="4.17"/><circle cx="1165.5" cy="1540.5" r="4.17"/><circle cx="1186.5" cy="1436.5" r="4.17"/><circle cx="1239.5" cy="1449.5" r="4.17"/><circle cx="1247.5" cy="1439.5" r="4.17"/><circle cx="1265.5" cy="1460.5" r="4.17"/><circle cx="1313.5" cy="1479.5" r="4.17"/><circle cx="1334.5" cy="1510.5" r="4.17"/><circle cx="1341.5" cy="1484.5" r="4.17"/><circle cx="1366.5" cy="1385.5" r="4.17"/><circle cx="1381.5" cy="1408.5" r="4.17"/><circle cx="1399.5" cy="1430.5" r="4.17"/><circle cx="1399.5" cy="1448.5" r="4.17"/><circle cx="1420.5" cy="1436.5" r="4.17"/><circle cx="1420.5" cy="1498.5" r="4.17"/><circle cx="1420.5" cy="1515.5" r="4.17"/><circle cx="1427.5" cy="1495.5" r="4.17"/><circle cx="1435.5" cy="1437.5" r="4.17"/><circle cx="1435.5" cy="1451.5" r="4.17"/><circle cx="1435.5" cy="1466.5" r="4.17"/><circle cx="1435.5" cy="1494.5" r="4.17"/><circle cx="1435.5" cy="1466.5" r="4.17"/><circle cx="1435.5" cy="1533.5" r="4.17"/><circle cx="1443.5" cy="1520.5" r="4.17"/><circle cx="1501.5" cy="1489.5" r="4.17"/><circle cx="1501.5" cy="1495.5" r="4.17"/><circle cx="1504.5" cy="1541.5" r="4.17"/><circle cx="1522.5" cy="1491.5" r="4.17"/><circle cx="1547.5" cy="1472.5" r="4.17"/><circle cx="1588.5" cy="1445.5" r="4.17"/><circle cx="1595.5" cy="1434.5" r="4.17"/><circle cx="1613.5" cy="1488.5" r="4.17"/></g>
</g>
<rect x="225.5" y="1335.5" width="1395.0" height="267.0" fill="none" stroke="#000" stroke-width="1.111" stroke-linejoin="miter"/>
<path d="M329.5 1602.5v5.41M584.5 1602.5v5.41M839.5 1602.5v5.41M1094.5 1602.5v5.41M1349.5 1602.5v5.41M1604.5 1602.5v5.41" stroke="#000" stroke-width="1.111" fill="none"/>
<text x="329.4" y="1638" text-anchor="middle">400</text>
<text x="584.23" y="1638" text-anchor="middle">500</text>
<text x="839.06" y="1638" text-anchor="middle">600</text>
<text x="1093.89" y="1638" text-anchor="middle">700</text>
<text x="1348.72" y="1638" text-anchor="middle">800</text>
<text x="1603.55" y="1638" text-anchor="middle">900</text>
<path d="M225.5 1402.5h-5.41M225.5 1477.5h-5.41M225.5 1552.5h-5.41" stroke="#000" stroke-width="1.111" fill="none"/>
<text x="215.0" y="1415" text-anchor="end">0.25</text>
<text x="215.0" y="1490" text-anchor="end">0.00</text>
<text x="215.0" y="1565" text-anchor="end">−0.25</text>
<text transform="translate(102 1473) rotate(-90)" text-anchor="middle">Residuals</text>
<text x="922.5" y="1676" text-anchor="middle">Julian Date</text>
<text x="1620" y="1674" text-anchor="end">+2.4580000000e6</text>
</svg>
</body></html>
